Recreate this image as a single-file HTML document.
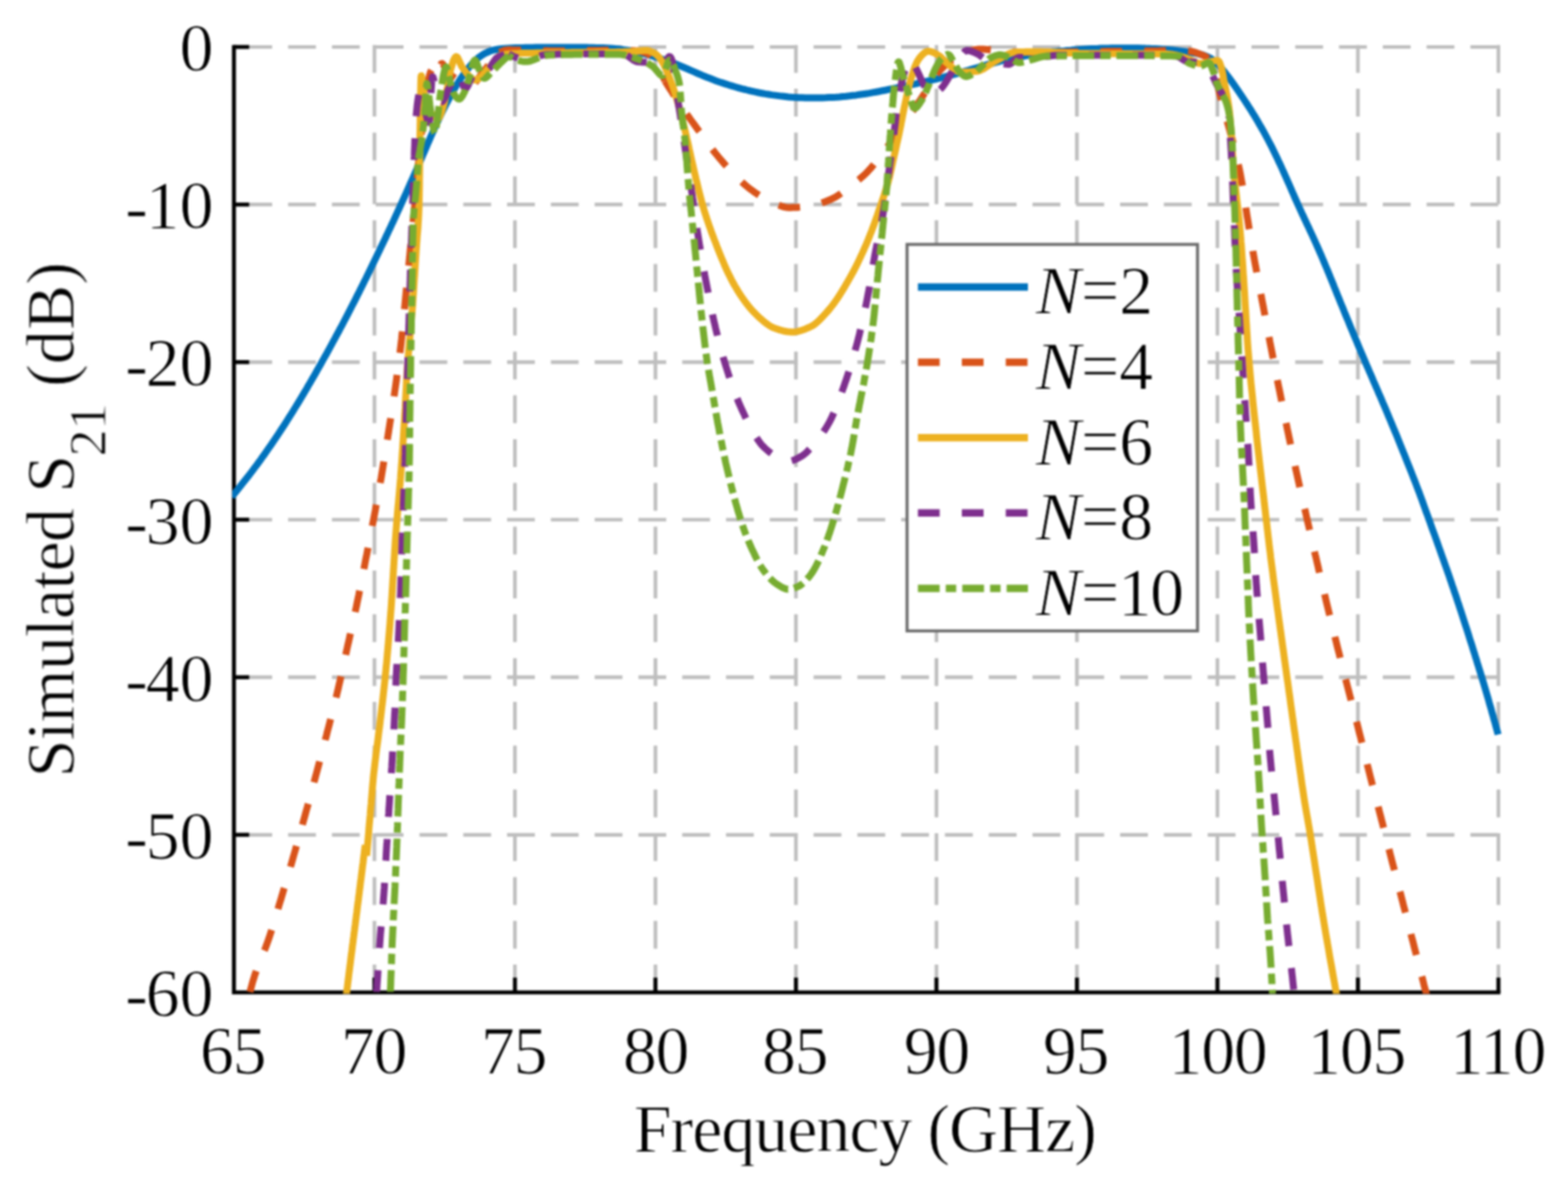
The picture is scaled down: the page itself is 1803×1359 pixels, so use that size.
<!DOCTYPE html>
<html lang="en">
<head>
<meta charset="utf-8">
<title>Simulated S21 versus Frequency</title>
<style>
html,body{margin:0;padding:0;background:#fff;}
body{width:1803px;height:1359px;overflow:hidden;font-family:"Liberation Serif","Times New Roman",Times,serif;}
svg{display:block;}
</style>
</head>
<body>
<svg width="1803" height="1359" viewBox="0 0 1803 1359">
<rect x="0" y="0" width="1803" height="1359" fill="#ffffff"/>
<defs><filter id="soft" x="0" y="0" width="1803" height="1359" filterUnits="userSpaceOnUse" color-interpolation-filters="sRGB"><feGaussianBlur stdDeviation="0.8"/></filter></defs>
<g filter="url(#soft)">
<g stroke="#bebebe" stroke-width="4.2" fill="none" stroke-dasharray="32 18.35">
<line x1="430.56" y1="51.75" x2="430.56" y2="1141.0"/>
<line x1="592.11" y1="51.75" x2="592.11" y2="1141.0"/>
<line x1="753.67" y1="51.75" x2="753.67" y2="1141.0"/>
<line x1="915.22" y1="51.75" x2="915.22" y2="1141.0"/>
<line x1="1076.78" y1="51.75" x2="1076.78" y2="1141.0"/>
<line x1="1238.33" y1="51.75" x2="1238.33" y2="1141.0"/>
<line x1="1399.89" y1="51.75" x2="1399.89" y2="1141.0"/>
<line x1="1561.44" y1="51.75" x2="1561.44" y2="1141.0"/>
<line x1="1723.00" y1="51.75" x2="1723.00" y2="1141.0"/>
<line x1="1722.75" y1="54.00" x2="269.0" y2="54.00"/>
<line x1="1722.75" y1="235.17" x2="269.0" y2="235.17"/>
<line x1="1722.75" y1="416.33" x2="269.0" y2="416.33"/>
<line x1="1722.75" y1="597.50" x2="269.0" y2="597.50"/>
<line x1="1722.75" y1="778.67" x2="269.0" y2="778.67"/>
<line x1="1722.75" y1="959.83" x2="269.0" y2="959.83"/>
</g>
<g stroke="#000" stroke-width="4.6" fill="none">
<path d="M269.0 51.7 V1141.0 H1725.3" stroke-linejoin="miter"/>
<line x1="430.56" y1="1141.0" x2="430.56" y2="1124.0"/>
<line x1="592.11" y1="1141.0" x2="592.11" y2="1124.0"/>
<line x1="753.67" y1="1141.0" x2="753.67" y2="1124.0"/>
<line x1="915.22" y1="1141.0" x2="915.22" y2="1124.0"/>
<line x1="1076.78" y1="1141.0" x2="1076.78" y2="1124.0"/>
<line x1="1238.33" y1="1141.0" x2="1238.33" y2="1124.0"/>
<line x1="1399.89" y1="1141.0" x2="1399.89" y2="1124.0"/>
<line x1="1561.44" y1="1141.0" x2="1561.44" y2="1124.0"/>
<line x1="1723.00" y1="1141.0" x2="1723.00" y2="1124.0"/>
<line x1="269.0" y1="54.00" x2="286.5" y2="54.00"/>
<line x1="269.0" y1="235.17" x2="286.5" y2="235.17"/>
<line x1="269.0" y1="416.33" x2="286.5" y2="416.33"/>
<line x1="269.0" y1="597.50" x2="286.5" y2="597.50"/>
<line x1="269.0" y1="778.67" x2="286.5" y2="778.67"/>
<line x1="269.0" y1="959.83" x2="286.5" y2="959.83"/>
</g>
<clipPath id="pc"><rect x="267.0" y="46.0" width="1462.0" height="1096.6"/></clipPath>
<g clip-path="url(#pc)" fill="none" stroke-linejoin="round">
<path d="M266.5 571.3L268.9 568.3L271.4 565.2L273.8 562.2L276.2 559.2L278.7 556.1L281.1 553.1L283.5 550.0L285.9 547.0L288.3 543.9L290.6 540.8L292.9 537.7L295.3 534.6L297.6 531.4L299.9 528.3L302.1 525.1L304.4 522.0L306.6 518.8L308.8 515.6L311.1 512.4L313.2 509.2L315.4 506.0L317.6 502.7L319.8 499.5L321.9 496.3L324.0 493.0L326.2 489.7L328.3 486.5L330.4 483.2L332.4 479.9L334.5 476.6L336.6 473.3L338.6 470.0L340.7 466.7L342.7 463.4L344.7 460.1L346.7 456.7L348.7 453.4L350.7 450.0L352.7 446.7L354.6 443.3L356.6 440.0L358.5 436.6L360.5 433.2L362.4 429.9L364.3 426.5L366.2 423.1L368.2 419.7L370.1 416.3L372.0 412.9L373.9 409.6L375.8 406.2L377.6 402.8L379.5 399.3L381.4 395.9L383.2 392.5L385.1 389.1L386.9 385.7L388.8 382.3L390.6 378.8L392.5 375.4L394.3 372.0L396.1 368.5L397.9 365.1L399.7 361.6L401.5 358.2L403.3 354.7L405.0 351.3L406.8 347.8L408.6 344.3L410.3 340.9L412.1 337.4L413.8 333.9L415.6 330.4L417.3 327.0L419.0 323.5L420.8 320.0L422.5 316.5L424.2 313.0L425.9 309.5L427.6 306.0L429.3 302.5L431.0 299.0L432.7 295.5L434.4 292.0L436.1 288.5L437.7 285.0L439.4 281.5L441.1 278.0L442.8 274.5L444.4 271.0L446.1 267.5L447.7 263.9L449.4 260.4L451.0 256.9L452.7 253.4L454.3 249.8L455.9 246.3L457.5 242.8L459.2 239.2L460.8 235.7L462.4 232.2L464.0 228.6L465.6 225.1L467.2 221.5L468.8 218.0L470.4 214.4L471.9 210.9L473.5 207.3L475.1 203.8L476.7 200.2L478.3 196.7L479.8 193.1L481.4 189.5L482.9 186.0L484.5 182.4L486.0 178.8L487.5 175.3L489.1 171.7L490.6 168.1L492.1 164.5L493.7 161.0L495.2 157.4L496.8 153.8L498.4 150.3L500.0 146.7L501.6 143.2L503.2 139.7L504.9 136.2L506.6 132.6L508.3 129.1L510.0 125.7L511.7 122.2L513.5 118.7L515.3 115.3L517.1 111.8L519.0 108.4L520.9 105.0L522.8 101.6L524.8 98.3L526.8 95.0L528.9 91.7L531.1 88.4L533.3 85.2L535.6 82.1L538.0 79.0L540.5 76.0L543.1 73.1L545.8 70.3L548.6 67.7L551.7 65.2L554.9 63.0L558.3 61.1L561.9 59.5L565.5 58.1L569.3 57.2L573.1 56.5L577.0 56.0L580.9 55.7L584.8 55.5L588.7 55.3L592.6 55.1L596.5 55.0L600.4 54.9L604.3 54.8L608.2 54.7L612.1 54.7L615.9 54.6L619.8 54.6L623.7 54.6L627.6 54.6L631.5 54.6L635.3 54.6L639.2 54.6L643.1 54.6L647.0 54.6L650.9 54.6L654.8 54.6L658.6 54.6L662.5 54.6L666.4 54.6L670.3 54.6L674.2 54.6L678.1 54.7L682.0 54.8L685.9 54.9L689.8 55.0L693.7 55.1L697.6 55.3L701.4 55.5L705.3 55.8L709.2 56.2L713.1 56.6L716.9 57.1L720.8 57.6L724.6 58.3L728.4 59.0L732.2 59.8L736.0 60.7L739.8 61.7L743.5 62.6L747.3 63.7L751.0 64.7L754.8 65.8L758.5 67.0L762.2 68.2L765.9 69.5L769.5 70.8L773.2 72.1L776.8 73.5L780.4 75.0L784.0 76.5L787.6 78.0L791.1 79.5L794.7 81.1L798.3 82.7L801.8 84.2L805.4 85.7L809.0 87.3L812.6 88.7L816.2 90.1L819.9 91.5L823.5 92.9L827.2 94.2L830.9 95.4L834.6 96.6L838.3 97.8L842.0 98.9L845.7 100.0L849.5 101.1L853.2 102.1L857.0 103.0L860.8 104.0L864.6 104.8L868.4 105.7L872.2 106.5L876.0 107.2L879.8 107.9L883.7 108.5L887.5 109.1L891.4 109.6L895.2 110.1L899.1 110.6L902.9 111.0L906.8 111.4L910.7 111.7L914.6 111.9L918.5 112.2L922.3 112.3L926.2 112.5L930.1 112.6L934.0 112.6L937.9 112.6L941.8 112.5L945.7 112.4L949.6 112.3L953.4 112.1L957.3 111.9L961.2 111.7L965.1 111.4L969.0 111.0L972.8 110.7L976.7 110.3L980.6 109.8L984.4 109.4L988.3 108.8L992.1 108.3L996.0 107.7L999.8 107.1L1003.6 106.4L1007.5 105.7L1011.3 105.0L1015.1 104.2L1018.9 103.5L1022.7 102.7L1026.6 101.9L1030.4 101.2L1034.2 100.4L1038.0 99.6L1041.8 98.7L1045.6 97.9L1049.4 97.1L1053.2 96.3L1057.0 95.4L1060.8 94.6L1064.6 93.7L1068.3 92.8L1072.1 91.9L1075.9 91.0L1079.7 90.1L1083.5 89.1L1087.2 88.2L1091.0 87.2L1094.7 86.2L1098.5 85.1L1102.2 84.1L1106.0 83.0L1109.7 81.9L1113.4 80.8L1117.2 79.7L1120.9 78.6L1124.6 77.5L1128.3 76.4L1132.1 75.3L1135.8 74.2L1139.6 73.2L1143.3 72.1L1147.1 71.1L1150.8 70.2L1154.6 69.2L1158.4 68.3L1162.2 67.5L1166.0 66.7L1169.8 65.9L1173.6 65.2L1177.4 64.5L1181.3 63.9L1185.1 63.3L1189.0 62.7L1192.8 62.1L1196.7 61.5L1200.5 61.0L1204.4 60.5L1208.2 60.0L1212.1 59.6L1216.0 59.1L1219.8 58.7L1223.7 58.4L1227.6 58.0L1231.5 57.7L1235.3 57.3L1239.2 57.1L1243.1 56.8L1247.0 56.5L1250.8 56.3L1254.7 56.1L1258.6 55.9L1262.5 55.8L1266.4 55.6L1270.3 55.5L1274.2 55.4L1278.0 55.3L1281.9 55.3L1285.8 55.2L1289.7 55.2L1293.6 55.2L1297.5 55.2L1301.4 55.2L1305.3 55.3L1309.2 55.3L1313.1 55.4L1317.0 55.6L1320.9 55.7L1324.8 55.9L1328.6 56.1L1332.5 56.3L1336.4 56.6L1340.2 56.9L1344.1 57.2L1347.9 57.6L1351.8 58.0L1355.6 58.5L1359.5 59.0L1363.3 59.5L1367.2 60.1L1371.1 60.7L1375.0 61.4L1378.9 62.1L1382.7 63.1L1386.4 64.4L1389.9 65.9L1393.1 67.8L1396.2 70.1L1399.1 72.7L1401.9 75.4L1404.5 78.4L1407.1 81.5L1409.5 84.7L1411.9 87.8L1414.3 91.0L1416.6 94.2L1418.9 97.4L1421.1 100.6L1423.3 103.8L1425.5 107.0L1427.7 110.2L1429.8 113.4L1431.9 116.6L1434.0 119.8L1436.1 123.1L1438.2 126.3L1440.2 129.6L1442.3 132.9L1444.3 136.3L1446.3 139.6L1448.2 143.0L1450.2 146.4L1452.1 149.7L1454.0 153.2L1455.9 156.6L1457.7 160.0L1459.5 163.5L1461.3 166.9L1463.1 170.4L1464.8 173.9L1466.5 177.4L1468.2 180.9L1469.8 184.4L1471.5 187.9L1473.1 191.4L1474.7 195.0L1476.3 198.5L1477.9 202.1L1479.5 205.6L1481.0 209.2L1482.6 212.7L1484.2 216.3L1485.7 219.9L1487.3 223.4L1488.8 227.0L1490.4 230.5L1492.0 234.1L1493.6 237.6L1495.2 241.2L1496.8 244.7L1498.5 248.2L1500.1 251.8L1501.8 255.3L1503.4 258.8L1505.1 262.3L1506.7 265.8L1508.4 269.4L1510.0 272.9L1511.6 276.4L1513.2 280.0L1514.8 283.5L1516.4 287.1L1517.9 290.6L1519.5 294.2L1521.0 297.8L1522.5 301.4L1524.0 305.0L1525.5 308.5L1527.0 312.1L1528.5 315.7L1529.9 319.3L1531.4 322.9L1532.9 326.5L1534.3 330.2L1535.8 333.8L1537.2 337.4L1538.7 341.0L1540.2 344.6L1541.6 348.2L1543.1 351.8L1544.6 355.4L1546.0 359.0L1547.5 362.6L1549.0 366.2L1550.5 369.8L1551.9 373.4L1553.4 377.0L1554.9 380.5L1556.4 384.1L1557.9 387.7L1559.4 391.3L1560.9 394.9L1562.4 398.5L1563.9 402.1L1565.4 405.6L1567.0 409.2L1568.5 412.8L1570.0 416.4L1571.5 420.0L1573.1 423.5L1574.6 427.1L1576.2 430.7L1577.7 434.2L1579.2 437.8L1580.8 441.4L1582.3 444.9L1583.9 448.5L1585.4 452.1L1587.0 455.7L1588.5 459.2L1590.0 462.8L1591.6 466.4L1593.1 469.9L1594.6 473.5L1596.1 477.1L1597.6 480.7L1599.1 484.3L1600.6 487.9L1602.1 491.5L1603.6 495.1L1605.1 498.6L1606.6 502.3L1608.0 505.9L1609.5 509.5L1610.9 513.1L1612.4 516.7L1613.8 520.3L1615.3 523.9L1616.7 527.5L1618.1 531.1L1619.6 534.7L1621.0 538.3L1622.5 542.0L1623.9 545.6L1625.3 549.2L1626.7 552.8L1628.1 556.4L1629.5 560.1L1630.9 563.7L1632.3 567.3L1633.6 571.0L1635.0 574.6L1636.3 578.3L1637.6 582.0L1638.9 585.6L1640.2 589.3L1641.6 592.9L1642.9 596.6L1644.2 600.2L1645.5 603.9L1646.8 607.6L1648.1 611.2L1649.5 614.9L1650.8 618.5L1652.1 622.2L1653.4 625.9L1654.7 629.5L1656.0 633.2L1657.3 636.8L1658.6 640.5L1659.9 644.2L1661.2 647.8L1662.5 651.5L1663.8 655.2L1665.1 658.8L1666.4 662.5L1667.6 666.2L1668.9 669.9L1670.1 673.6L1671.4 677.2L1672.6 680.9L1673.9 684.6L1675.1 688.3L1676.3 692.0L1677.6 695.7L1678.8 699.4L1680.0 703.1L1681.2 706.8L1682.4 710.5L1683.6 714.2L1684.8 717.9L1686.0 721.6L1687.2 725.3L1688.4 729.0L1689.5 732.7L1690.7 736.4L1691.9 740.1L1693.1 743.8L1694.2 747.5L1695.4 751.2L1696.5 754.9L1697.7 758.6L1698.8 762.4L1700.0 766.1L1701.1 769.8L1702.3 773.5L1703.4 777.2L1704.5 780.9L1705.7 784.7L1706.8 788.4L1707.9 792.1L1709.0 795.8L1710.1 799.6L1711.2 803.3L1712.2 807.1L1713.3 810.8L1714.4 814.5L1715.4 818.3L1716.5 822.0L1717.5 825.8L1718.6 829.5L1719.6 833.3L1720.6 837.0L1721.7 840.8L1722.7 844.5" stroke="#0072bd" stroke-width="8.0"/>
<path d="M286.0 1147.0L286.5 1144.4L287.1 1141.8L287.8 1139.0L288.6 1136.2L289.4 1133.3L290.2 1130.3L291.1 1127.2L292.1 1124.0L293.1 1120.7L294.3 1117.3L295.6 1113.8L297.0 1110.1L298.5 1106.4L300.1 1102.6L301.6 1098.7L303.2 1094.8L304.8 1090.9L306.3 1087.0L307.7 1083.1L309.1 1079.2L310.4 1075.2L311.7 1071.2L313.0 1067.2L314.2 1063.1L315.5 1059.0L316.7 1054.9L318.0 1050.8L319.2 1046.6L320.4 1042.5L321.6 1038.4L322.9 1034.3L324.1 1030.2L325.3 1026.1L326.5 1022.0L327.8 1017.9L329.0 1013.8L330.2 1009.7L331.4 1005.6L332.6 1001.5L333.8 997.4L335.0 993.3L336.2 989.2L337.3 985.1L338.5 981.0L339.7 976.9L340.8 972.8L342.0 968.7L343.1 964.7L344.3 960.6L345.4 956.5L346.6 952.4L347.7 948.4L348.8 944.3L350.0 940.2L351.1 936.1L352.2 932.0L353.4 927.9L354.5 923.8L355.6 919.6L356.7 915.5L357.9 911.4L359.0 907.3L360.1 903.2L361.2 899.0L362.3 894.9L363.4 890.8L364.5 886.7L365.6 882.6L366.7 878.4L367.8 874.3L368.9 870.2L370.0 866.1L371.1 862.0L372.2 857.8L373.3 853.7L374.3 849.6L375.4 845.5L376.4 841.3L377.5 837.2L378.6 833.1L379.6 829.0L380.7 824.8L381.7 820.7L382.8 816.6L383.8 812.5L384.8 808.3L385.9 804.2L386.9 800.1L387.9 795.9L388.9 791.8L389.8 787.7L390.8 783.5L391.7 779.4L392.7 775.2L393.6 771.0L394.5 766.9L395.4 762.7L396.3 758.5L397.2 754.3L398.1 750.2L399.0 746.0L399.9 741.9L400.9 737.7L401.8 733.6L402.7 729.4L403.6 725.3L404.5 721.2L405.5 717.0L406.4 712.9L407.3 708.8L408.2 704.6L409.1 700.5L410.0 696.3L410.8 692.2L411.7 688.0L412.6 683.8L413.4 679.6L414.3 675.4L415.1 671.2L415.9 667.0L416.7 662.8L417.6 658.6L418.4 654.4L419.2 650.2L420.0 646.0L420.8 641.8L421.7 637.6L422.5 633.4L423.3 629.2L424.1 625.1L425.0 620.9L425.8 616.7L426.6 612.6L427.4 608.4L428.2 604.2L429.0 600.1L429.8 595.9L430.6 591.7L431.4 587.5L432.1 583.3L432.9 579.2L433.7 575.0L434.4 570.8L435.2 566.6L435.9 562.5L436.7 558.3L437.4 554.1L438.2 549.9L438.9 545.7L439.6 541.4L440.3 537.2L441.0 532.9L441.7 528.6L442.4 524.3L443.1 520.1L443.8 515.8L444.5 511.5L445.1 507.2L445.8 502.9L446.5 498.7L447.1 494.4L447.8 490.2L448.4 486.1L449.1 481.9L449.7 477.8L450.4 473.7L451.0 469.6L451.6 465.5L452.3 461.4L452.9 457.3L453.5 453.1L454.1 449.0L454.7 444.8L455.3 440.6L455.9 436.4L456.4 432.1L457.0 427.9L457.6 423.6L458.2 419.3L458.7 415.0L459.3 410.7L459.8 406.4L460.3 402.2L460.8 397.9L461.3 393.6L461.8 389.4L462.2 385.1L462.7 380.9L463.1 376.6L463.5 372.4L463.9 368.2L464.3 363.9L464.7 359.7L465.1 355.5L465.5 351.3L465.9 347.1L466.3 342.9L466.7 338.7L467.1 334.5L467.5 330.4L467.9 326.3L468.3 322.1L468.7 318.0L469.2 313.9L469.6 309.7L470.0 305.6L470.4 301.4L470.8 297.2L471.2 293.1L471.6 288.9L472.0 284.7L472.5 280.5L472.9 276.3L473.3 272.1L473.7 267.9L474.2 263.6L474.6 259.4L475.0 255.1L475.4 250.8L475.9 246.5L476.3 242.2L476.7 237.8L477.1 233.4L477.5 228.9L477.9 224.4L478.3 219.9L478.7 215.5L479.1 211.0L479.5 206.5L479.9 202.0L480.3 197.6L480.7 193.2L481.1 188.9L481.5 184.5L481.9 180.2L482.3 175.9L482.8 171.5L483.2 167.3L483.6 163.0L484.0 158.7L484.4 154.5L484.9 150.4L485.3 146.3L485.8 142.2L486.2 138.2L486.6 134.2L487.1 130.1L487.5 126.1L487.9 122.1L488.4 118.2L488.8 114.3L489.3 110.6L489.8 107.0L490.3 103.6L490.9 100.4L491.5 97.2L492.2 93.7L493.0 90.2L493.8 86.9L494.6 84.0L495.5 81.7L496.3 80.3L497.2 80.1L498.2 81.2L499.1 83.3L500.2 85.6L501.2 87.4L502.1 88.0L503.0 86.9L503.9 84.4L504.7 81.2L505.6 77.9L506.5 75.1L507.4 73.3L508.5 73.1L509.6 74.1L510.8 75.9L512.1 78.2L513.5 80.6L514.9 82.7L516.4 84.4L518.0 85.9L519.7 87.3L521.5 88.7L523.4 90.0L525.3 91.1L527.3 92.1L529.4 93.1L531.7 94.2L534.0 95.1L536.4 96.0L538.8 96.6L541.0 97.0L543.0 96.9L545.0 96.0L546.9 94.3L548.7 92.1L550.6 89.6L552.3 87.0L554.1 84.4L555.9 82.1L557.7 80.0L559.5 77.8L561.3 75.6L563.1 73.3L564.8 71.1L566.6 68.7L568.3 66.4L570.0 64.0" stroke="#d95319" stroke-width="8.0" stroke-dasharray="25 25.4" stroke-dashoffset="43.66"/>
<path d="M570.0 64.0L571.3 62.9L572.8 61.7L574.3 60.7L575.8 59.7L577.5 58.9L579.2 58.2L580.9 57.7L582.7 57.4L584.6 57.3L586.6 57.3L588.7 57.4L590.8 57.4L593.1 57.5L595.4 57.6L597.8 57.6L600.2 57.7L602.7 57.8L605.2 57.9L607.7 58.0L610.3 58.0L612.9 58.1L615.5 58.1L618.2 58.1L621.0 58.2L623.8 58.2L626.7 58.3L629.6 58.3L632.5 58.4L635.5 58.4L638.5 58.4L641.5 58.5L644.5 58.5L647.5 58.5L650.6 58.5L653.6 58.5L656.8 58.5L660.1 58.4L663.4 58.4L666.7 58.3L670.1 58.3L673.4 58.2L676.8 58.1L680.2 58.1L683.5 58.0L686.7 57.9L689.9 57.9L693.0 57.8L696.0 57.8L698.9 57.8L701.7 57.8L704.5 57.8L707.2 57.8L709.9 57.8L712.5 57.9L715.1 57.9L717.6 58.0L720.1 58.0L722.5 58.1L724.8 58.1L727.0 58.2L729.1 58.3L731.1 58.4L733.1 58.5L735.0 58.8L736.9 59.2L738.6 59.6L740.3 60.1L741.9 60.7L743.5 61.3L744.9 61.9L746.2 62.7L747.5 63.8L748.6 65.1L749.8 66.6L750.8 68.2L751.9 69.9L752.9 71.6L754.0 73.3L755.0 75.0L756.0 76.6L757.1 78.3L758.1 80.0L759.1 81.8L760.0 83.6L761.0 85.4L762.0 87.3L762.9 89.2L763.8 91.2L764.7 93.2" stroke="#d95319" stroke-width="8.0" stroke-dasharray="25 25.4" stroke-dashoffset="44.44"/>
<path d="M764.7 93.2L766.1 95.5L767.6 97.9L769.1 100.2L770.6 102.6L772.1 104.9L773.6 107.3L775.1 109.7L776.7 112.1L778.3 114.5L779.9 116.9L781.5 119.3L783.2 121.7L784.8 124.1L786.5 126.6L788.2 129.0L789.9 131.5L791.7 134.0L793.4 136.5L795.2 139.0L797.0 141.4L798.8 143.9L800.6 146.4L802.4 148.9L804.3 151.4L806.1 154.0L807.9 156.5L809.7 159.0L811.6 161.6L813.4 164.1L815.3 166.6L817.2 169.2L819.1 171.7L821.1 174.3L823.1 176.8L825.2 179.3L827.3 181.9L829.5 184.4L831.8 187.1L834.2 189.8L836.7 192.5L839.3 195.3L841.9 198.1L844.5 200.8L847.1 203.5L849.8 206.1L852.4 208.6L855.0 211.0L857.5 213.2L860.0 215.3L862.4 217.2L864.7 218.8L866.9 220.4L869.1 222.0L871.2 223.4L873.4 224.8L875.5 226.0L877.6 227.3L879.7 228.4L881.8 229.5L884.0 230.6L886.3 231.6L888.5 232.6L890.8 233.7L893.1 234.7L895.4 235.8L897.7 236.7L900.0 237.5L902.4 238.1L904.7 238.5L907.0 238.7L909.4 238.7L911.7 238.6L914.1 238.5L916.4 238.4L918.8 238.2L921.1 238.0L923.5 237.7L925.9 237.5L928.3 237.2L930.7 236.9L933.2 236.5L935.8 236.0L938.3 235.4L940.9 234.6L943.5 233.8L946.0 232.9L948.6 232.0L951.1 231.0L953.5 230.0L955.9 229.0L958.1 227.9L960.4 226.7L962.6 225.4L964.7 224.0L966.9 222.5L969.0 221.0L971.0 219.4L973.1 217.8L975.1 216.2L977.1 214.7L979.1 213.2L981.1 211.7L983.0 210.2L984.9 208.7L986.8 207.1L988.7 205.6L990.5 204.0L992.4 202.4L994.1 200.8L995.9 199.1L997.6 197.4L999.2 195.6L1000.9 193.8L1002.5 191.9L1004.1 190.0L1005.6 188.1L1007.2 186.2L1008.7 184.2L1010.3 182.2L1011.8 180.2L1013.4 178.2L1015.0 176.1L1016.6 174.0L1018.1 171.8L1019.7 169.7L1021.3 167.5L1022.8 165.3L1024.3 163.2L1025.8 161.1L1027.2 159.1L1028.7 157.1L1030.0 155.1L1031.4 153.2L1032.7 151.3L1034.1 149.4L1035.3 147.6L1036.6 145.8L1037.9 144.0L1039.2 142.2L1040.4 140.4L1041.6 138.7L1042.8 137.0L1044.0 135.4L1045.2 133.8L1046.4 132.1L1047.6 130.5L1048.8 128.7L1050.1 126.9L1051.4 125.0L1052.7 123.1L1054.1 121.0L1055.4 119.0L1056.8 116.8L1058.3 114.7L1059.7 112.5L1061.1 110.4L1062.5 108.2L1064.0 106.0L1065.4 103.8L1066.8 101.5L1068.3 99.2L1069.7 96.9L1071.1 94.5L1072.6 92.2L1074.1 89.9L1075.6 87.7L1077.1 85.5L1078.7 83.5L1080.4 81.5L1082.2 79.7L1083.9 77.8L1085.8 76.0L1087.7 74.3L1089.6 72.6L1091.6 71.0L1093.6 69.4L1095.7 67.9L1097.8 66.4L1100.0 65.0" stroke="#d95319" stroke-width="8.0" stroke-dasharray="25 25.4" stroke-dashoffset="5.11"/>
<path d="M1100.0 65.0L1102.4 63.8L1104.9 62.6L1107.3 61.4L1109.8 60.4L1112.3 59.5L1114.9 58.6L1117.4 57.9L1120.0 57.3L1122.5 56.9L1125.2 56.6L1127.8 56.5L1130.4 56.5L1133.1 56.7L1135.7 56.9L1138.4 57.2L1141.2 57.5L1143.9 57.9L1146.7 58.3L1149.4 58.6L1152.2 58.9L1155.1 59.2L1158.0 59.4L1160.9 59.5L1163.8 59.6L1166.7 59.7L1169.7 59.8L1172.6 59.9L1175.6 59.9L1178.7 60.0L1181.7 60.0L1184.8 60.1L1188.0 60.1L1191.2 60.2L1194.4 60.2L1197.8 60.2L1201.1 60.2L1204.6 60.2L1208.2 60.2L1211.8 60.1L1215.5 60.1L1219.2 60.0L1223.0 60.0L1226.9 59.9L1230.8 59.8L1234.7 59.7L1238.6 59.7L1242.5 59.6L1246.4 59.5L1250.3 59.5L1254.1 59.4L1257.9 59.3L1261.7 59.3L1265.6 59.2L1269.5 59.2L1273.4 59.1L1277.3 59.1L1281.3 59.0L1285.2 59.0L1289.2 59.0L1293.1 58.9L1296.9 58.9L1300.8 58.8L1304.5 58.8L1308.2 58.8L1311.8 58.7L1315.3 58.7L1318.6 58.6L1321.9 58.6L1325.2 58.5L1328.4 58.5L1331.6 58.4L1334.7 58.3L1337.8 58.3L1340.8 58.2L1343.7 58.1L1346.5 58.1L1349.1 58.0L1351.6 58.0L1353.8 58.0L1355.9 58.0L1357.8 58.0L1359.6 58.1L1361.2 58.2L1362.8 58.3L1364.4 58.4L1366.0 58.5L1367.6 58.7L1369.2 58.9L1370.8 59.2L1372.4 59.6L1374.0 60.1L1375.5 60.6L1377.1 61.2L1378.7 61.8L1380.4 62.4L1382.1 63.1L1383.9 63.9L1385.6 64.8L1387.2 65.7L1388.6 66.7L1389.9 67.9L1390.9 69.1L1391.9 70.6L1392.8 72.4L1393.7 74.3L1394.4 76.3L1395.2 78.3L1395.9 80.5L1396.6 82.6L1397.2 84.6L1397.8 86.7L1398.3 88.9L1398.8 91.2L1399.3 93.4L1399.8 95.8L1400.3 98.1L1400.7 100.4L1401.2 102.7L1401.8 105.0L1402.3 107.3L1402.9 109.5L1403.5 111.8L1404.1 114.0L1404.7 116.3L1405.4 118.5L1406.0 120.8L1406.6 123.0L1407.2 125.3L1407.9 127.5L1408.5 129.8L1409.1 132.0L1409.7 134.3L1410.3 136.5L1410.9 138.8L1411.5 141.0L1412.2 143.3L1412.8 145.5L1413.4 147.8L1414.0 150.0" stroke="#d95319" stroke-width="8.0" stroke-dasharray="25 25.4" stroke-dashoffset="34.51"/>
<path d="M1414.0 150.0L1414.8 152.8L1415.7 155.6L1416.5 158.6L1417.3 161.6L1418.1 164.6L1418.9 167.7L1419.7 170.9L1420.5 174.1L1421.3 177.4L1422.1 180.8L1422.9 184.2L1423.7 187.7L1424.4 191.2L1425.2 194.9L1426.0 198.7L1426.7 202.6L1427.4 206.6L1428.2 210.9L1428.9 215.3L1429.6 219.8L1430.3 224.4L1431.0 229.1L1431.7 233.8L1432.5 238.5L1433.2 243.2L1433.9 247.8L1434.7 252.4L1435.4 256.9L1436.1 261.5L1436.9 266.0L1437.7 270.6L1438.4 275.2L1439.2 279.8L1440.0 284.3L1440.7 288.9L1441.5 293.5L1442.3 298.0L1443.1 302.6L1444.0 307.1L1444.8 311.6L1445.6 316.2L1446.5 320.7L1447.4 325.2L1448.2 329.7L1449.1 334.3L1450.0 338.8L1450.8 343.3L1451.7 347.9L1452.6 352.4L1453.4 356.9L1454.3 361.5L1455.1 366.1L1456.0 370.6L1456.9 375.2L1457.7 379.8L1458.6 384.3L1459.5 388.9L1460.3 393.5L1461.2 398.0L1462.1 402.6L1463.0 407.1L1463.9 411.7L1464.8 416.2L1465.6 420.8L1466.5 425.3L1467.4 429.9L1468.3 434.4L1469.2 439.0L1470.1 443.5L1471.1 448.1L1472.0 452.6L1472.9 457.2L1473.8 461.7L1474.7 466.3L1475.7 470.8L1476.6 475.4L1477.5 480.0L1478.4 484.5L1479.4 489.0L1480.3 493.6L1481.3 498.1L1482.2 502.6L1483.2 507.2L1484.1 511.7L1485.0 516.2L1486.0 520.7L1487.0 525.1L1487.9 529.6L1488.9 534.1L1489.8 538.6L1490.8 543.1L1491.8 547.6L1492.8 552.1L1493.8 556.6L1494.8 561.1L1495.8 565.6L1496.8 570.1L1497.9 574.5L1498.9 579.0L1499.9 583.5L1501.0 588.0L1502.0 592.5L1503.0 597.0L1504.0 601.4L1505.1 605.9L1506.1 610.3L1507.1 614.8L1508.1 619.2L1509.1 623.7L1510.2 628.1L1511.2 632.6L1512.2 637.1L1513.3 641.5L1514.3 646.0L1515.4 650.5L1516.4 655.1L1517.5 659.6L1518.6 664.1L1519.6 668.7L1520.7 673.2L1521.8 677.8L1522.9 682.3L1524.0 686.9L1525.0 691.4L1526.1 695.9L1527.2 700.4L1528.3 704.9L1529.4 709.4L1530.5 713.9L1531.6 718.4L1532.7 722.8L1533.8 727.3L1534.9 731.8L1536.0 736.2L1537.1 740.7L1538.2 745.2L1539.4 749.7L1540.5 754.1L1541.6 758.6L1542.8 763.1L1543.9 767.6L1545.0 772.0L1546.2 776.5L1547.3 781.0L1548.5 785.5L1549.6 789.9L1550.8 794.4L1551.9 798.9L1553.1 803.4L1554.2 807.8L1555.4 812.3L1556.5 816.8L1557.7 821.3L1558.9 825.8L1560.0 830.2L1561.2 834.7L1562.3 839.2L1563.4 843.7L1564.6 848.2L1565.7 852.7L1566.8 857.2L1567.9 861.6L1569.0 866.1L1570.1 870.6L1571.2 875.1L1572.3 879.6L1573.5 884.1L1574.6 888.6L1575.7 893.1L1576.9 897.6L1578.0 902.1L1579.2 906.5L1580.4 911.0L1581.5 915.5L1582.7 920.0L1583.9 924.4L1585.1 928.9L1586.2 933.4L1587.4 937.9L1588.5 942.3L1589.7 946.8L1590.8 951.3L1591.9 955.8L1593.1 960.2L1594.2 964.7L1595.3 969.2L1596.5 973.7L1597.6 978.1L1598.7 982.6L1599.9 987.1L1601.0 991.6L1602.2 996.0L1603.4 1000.5L1604.5 1005.0L1605.7 1009.5L1606.9 1013.9L1608.0 1018.4L1609.2 1022.9L1610.4 1027.3L1611.5 1031.8L1612.7 1036.3L1613.8 1040.8L1615.0 1045.2L1616.2 1049.7L1617.3 1054.2L1618.5 1058.7L1619.7 1063.2L1620.8 1067.7L1622.0 1072.2L1623.1 1076.7L1624.3 1081.1L1625.4 1085.5L1626.5 1090.0L1627.7 1094.6L1628.9 1099.2L1630.1 1103.9L1631.3 1108.6L1632.5 1113.2L1633.6 1117.6L1634.7 1121.8L1635.8 1125.8L1636.7 1129.4L1637.5 1132.7L1638.3 1135.7L1639.1 1138.6L1639.7 1141.2L1640.4 1143.7L1641.0 1146.0L1641.5 1148.0" stroke="#d95319" stroke-width="8.0" stroke-dasharray="25 25.4" stroke-dashoffset="10.01"/>
<path d="M397.4 1150.0L397.5 1149.0L397.7 1147.7L397.9 1146.3L398.1 1144.8L398.3 1143.1L398.6 1141.2L398.8 1139.2L399.1 1136.8L399.5 1134.2L399.8 1131.3L400.2 1128.2L400.6 1125.0L401.0 1121.6L401.4 1118.1L401.9 1114.6L402.3 1111.1L402.8 1107.5L403.2 1104.1L403.6 1100.7L404.0 1097.4L404.5 1094.0L404.9 1090.7L405.3 1087.2L405.8 1083.8L406.2 1080.3L406.7 1076.8L407.1 1073.3L407.6 1069.8L408.0 1066.3L408.5 1062.8L408.9 1059.3L409.4 1055.7L409.8 1052.3L410.3 1048.8L410.7 1045.3L411.1 1041.7L411.6 1038.1L412.1 1034.5L412.5 1030.9L413.0 1027.2L413.4 1023.6L413.9 1020.1L414.3 1016.6L414.7 1013.1L415.2 1009.8L415.6 1006.5L416.0 1003.3L416.4 1000.3L416.7 997.3L417.1 994.5L417.5 991.7L417.8 988.9L418.1 986.2L418.5 983.6L418.8 981.0L419.1 978.6L419.4 976.1L419.7 973.8L420.0 971.5" stroke="#edb120" stroke-width="8.0"/>
<path d="M421.6 984.0L421.9 980.5L422.2 977.0L422.5 973.5L422.8 970.0L423.1 966.6L423.4 963.1L423.7 959.7L424.0 956.4L424.2 953.0L424.5 949.7L424.8 946.4L425.1 943.1L425.4 939.8L425.7 936.6L425.9 933.4L426.2 930.2L426.5 927.0L426.8 923.8L427.0 920.7L427.3 917.5L427.6 914.5L427.8 911.6L428.0 908.7L428.3 905.7L428.5 902.7L428.8 899.6L429.1 896.2L429.4 892.7L429.8 888.9L430.3 884.8L430.8 880.5L431.3 875.9L431.9 871.2L432.5 866.3L433.1 861.3L433.8 856.2L434.5 851.1L435.1 846.0L435.7 841.0L436.4 836.0L437.0 831.1L437.5 826.4L438.1 821.8L438.6 817.2L439.1 812.6L439.7 808.1L440.2 803.6L440.7 799.0L441.2 794.5L441.7 790.0L442.2 785.5L442.7 781.0L443.1 776.4L443.6 771.8L444.0 767.2L444.5 762.6L444.9 758.0L445.3 753.4L445.7 748.8L446.1 744.1L446.5 739.5L446.9 734.8L447.3 730.2L447.7 725.4L448.1 720.6L448.5 715.8L448.8 710.9L449.2 705.9L449.6 700.8L450.0 695.6L450.3 690.2L450.7 684.8L451.0 679.2L451.4 673.5L451.7 667.8L452.1 662.1L452.4 656.3L452.8 650.5L453.1 644.8L453.5 639.1L453.8 633.5L454.2 627.9L454.5 622.5L454.9 617.1L455.3 611.9L455.7 606.9L456.1 601.9L456.5 597.0L456.9 592.1L457.3 587.3L457.7 582.6L458.2 577.9L458.6 573.2L459.0 568.5L459.4 563.8L459.8 559.1L460.2 554.3L460.6 549.6L460.9 544.8L461.3 540.0L461.6 535.1L462.0 530.3L462.3 525.4L462.6 520.6L463.0 515.7L463.3 510.8L463.6 506.0L463.9 501.2L464.2 496.4L464.5 491.6L464.8 486.9L465.1 482.2L465.3 477.6L465.6 473.0L465.9 468.5L466.1 464.0L466.3 459.5L466.6 455.1L466.8 450.7L467.1 446.2L467.3 441.8L467.5 437.3L467.8 432.9L468.1 428.3L468.4 423.7L468.7 419.1L469.0 414.4L469.4 409.7L469.8 404.9L470.2 400.1L470.6 395.3L471.1 390.5L471.5 385.6L472.0 380.8L472.4 375.9L472.8 371.1L473.2 366.2L473.6 361.4L474.0 356.6L474.4 351.8L474.7 346.9L475.0 342.0L475.4 337.1L475.7 332.2L476.0 327.3L476.3 322.4L476.7 317.5L477.0 312.6L477.3 307.8L477.6 303.1L477.9 298.4L478.2 293.8L478.5 289.2L478.8 284.8L479.1 280.5L479.4 276.4L479.7 272.3L480.0 268.3L480.4 264.3L480.7 260.3L480.9 256.2L481.2 252.1L481.4 247.8L481.6 243.4L481.8 238.8L481.9 234.0L482.0 229.0L482.1 223.7L482.2 218.3L482.3 212.7L482.3 207.1L482.4 201.3L482.5 195.5L482.5 189.6L482.6 183.8L482.6 178.0L482.7 172.3L482.8 166.6L482.8 161.1L482.9 155.8L483.0 150.6L483.1 145.3L483.2 139.6L483.2 133.5L483.3 127.3L483.4 121.1L483.5 115.0L483.6 109.1L483.7 103.6L483.8 98.7L483.9 94.4L484.0 91.0L484.1 88.6L484.3 87.2L484.5 87.1L484.8 88.4L485.1 90.8L485.6 94.0L486.1 97.8L486.6 101.9L487.3 106.0L487.9 109.9L488.6 113.3L489.3 116.0L490.1 118.5L491.0 120.9L492.0 123.2L493.1 125.3L494.3 127.3L495.4 129.2L496.6 130.8L497.9 132.6L499.3 134.3L500.7 135.8L502.0 136.7L503.2 137.0L504.3 136.3L505.3 134.7L506.3 132.6L507.3 130.1L508.2 127.5L509.0 125.1L509.7 122.7L510.4 120.2L511.1 117.5L511.7 114.7L512.3 111.8L512.8 108.9L513.4 106.1L513.9 103.3L514.5 100.5L515.0 97.7L515.4 94.9L515.9 92.0L516.3 89.2L516.8 86.5L517.3 83.8L517.9 81.3L518.6 78.6L519.5 75.7L520.4 72.6L521.3 69.8L522.4 67.5L523.4 65.8L524.4 65.0L525.5 65.4L526.5 66.8L527.5 68.9L528.6 71.4L529.8 74.0L531.0 76.5L532.4 78.6L534.0 80.7L535.8 83.2L537.7 85.6L539.7 87.9L541.7 89.8L543.8 91.2L545.8 91.9L547.8 91.8L549.9 90.8L552.0 89.2L554.1 87.1L556.2 84.8L558.3 82.3L560.4 79.8L562.4 77.7L564.2 75.7L566.0 73.5L567.7 71.3L569.4 69.0L571.1 67.0L572.9 65.3L574.7 64.0L576.6 63.3L578.6 62.9L580.6 62.5L582.6 62.2L584.8 61.9L587.2 61.7L589.9 61.5L592.8 61.4L596.2 61.3L599.9 61.1L603.9 61.0L608.1 61.0L612.4 60.9L617.0 60.8L621.6 60.7L626.2 60.7L630.8 60.6L635.4 60.6L639.8 60.5L644.3 60.5L648.9 60.4L653.6 60.4L658.4 60.3L663.2 60.3L668.1 60.3L672.9 60.2L677.7 60.2L682.3 60.2L686.9 60.1L691.3 60.1L695.4 60.1L699.4 60.0L703.1 59.9L706.7 59.9L710.3 59.8L713.7 59.7L717.0 59.6L720.2 59.4L723.2 59.3L726.1 59.2L728.8 59.1L731.3 58.9L733.7 58.7L735.9 58.5L738.0 58.3L740.0 58.1L741.9 58.0L743.8 58.0L745.6 58.3L747.4 58.9L749.1 59.6L750.7 60.4L752.3 61.2L753.8 62.1L755.2 63.3L756.6 64.6L757.9 66.1L759.3 67.7L760.6 69.6L762.0 71.9L763.4 74.5L764.8 77.4L766.2 80.4L767.5 83.6L768.8 86.7L770.0 89.8L771.1 92.6L772.1 95.3L773.0 97.8L773.9 100.3L774.7 102.7L775.5 105.2L776.3 107.7L777.1 110.4L778.0 113.2L778.9 116.3L779.8 119.5L780.7 122.8L781.7 126.3L782.6 129.8L783.6 133.5L784.5 137.1L785.4 140.9L786.4 144.6L787.3 148.3L788.2 152.0L789.1 155.8L789.9 159.6L790.8 163.4L791.7 167.3L792.5 171.3L793.4 175.2L794.2 179.1L795.1 183.1L796.0 187.0L796.9 190.9L797.8 194.8L798.7 198.7L799.6 202.6L800.5 206.5L801.5 210.3L802.4 214.2L803.3 218.1L804.3 221.9L805.3 225.8L806.3 229.7L807.3 233.5L808.4 237.4L809.5 241.2L810.7 245.0L811.9 248.9L813.2 252.7L814.5 256.5L815.8 260.4L817.2 264.2L818.5 268.0L820.0 271.8L821.4 275.6L822.9 279.4L824.3 283.2L825.8 287.0L827.4 290.9L828.9 294.7L830.5 298.6L832.2 302.5L833.8 306.4L835.5 310.2L837.3 313.9L839.1 317.6L840.9 321.2L842.8 324.8L844.7 328.2L846.7 331.5L848.7 334.9L850.9 338.3L853.1 341.6L855.3 344.8L857.6 348.0L860.0 351.0L862.3 353.9L864.7 356.6L867.1 359.2L869.4 361.5L871.8 363.8L874.2 366.1L876.7 368.3L879.2 370.4L881.7 372.3L884.2 374.1L886.8 375.6L889.3 376.8L891.9 377.7L894.4 378.6L897.0 379.4L899.6 380.1L902.2 380.8L904.9 381.3L907.5 381.6L910.1 381.8L912.7 381.7L915.3 381.4L917.9 380.9L920.5 380.2L923.2 379.3L925.7 378.4L928.3 377.3L930.8 376.3L933.3 375.0L935.8 373.5L938.2 371.6L940.7 369.5L943.1 367.1L945.5 364.7L947.8 362.1L950.2 359.5L952.4 357.0L954.6 354.4L956.8 351.6L959.0 348.8L961.1 345.8L963.2 342.7L965.3 339.5L967.4 336.2L969.4 332.9L971.4 329.6L973.3 326.3L975.2 323.0L977.1 319.6L979.0 316.2L980.9 312.8L982.7 309.3L984.5 305.8L986.3 302.2L988.0 298.6L989.7 295.0L991.4 291.4L993.0 287.8L994.6 284.2L996.2 280.6L997.7 277.0L999.2 273.3L1000.6 269.6L1002.1 265.9L1003.5 262.2L1004.9 258.5L1006.2 254.8L1007.5 251.1L1008.8 247.5L1010.0 243.9L1011.2 240.4L1012.5 236.9L1013.6 233.4L1014.8 229.9L1016.0 226.4L1017.1 223.0L1018.2 219.6L1019.2 216.2L1020.2 212.9L1021.1 209.6L1022.0 206.4L1022.8 203.3L1023.5 200.2L1024.2 197.2L1024.9 194.2L1025.5 191.2L1026.2 188.3L1026.8 185.3L1027.5 182.3L1028.2 179.2L1028.9 176.1L1029.6 173.0L1030.3 169.8L1031.0 166.7L1031.7 163.5L1032.4 160.4L1033.1 157.2L1033.8 154.1L1034.4 150.9L1035.0 147.9L1035.7 144.8L1036.2 141.7L1036.8 138.7L1037.4 135.7L1038.0 132.6L1038.6 129.5L1039.2 126.4L1039.9 123.2L1040.6 119.9L1041.3 116.6L1042.0 113.1L1042.8 109.6L1043.6 106.2L1044.3 102.7L1045.2 99.3L1046.0 96.0L1046.9 92.8L1047.8 89.7L1048.7 86.7L1049.7 83.7L1050.6 80.7L1051.6 77.8L1052.7 75.0L1053.8 72.5L1055.0 70.1L1056.3 68.1L1057.7 66.2L1059.3 64.3L1061.0 62.5L1062.8 60.9L1064.7 59.7L1066.5 59.0L1068.4 58.9L1070.3 59.3L1072.2 59.9L1074.1 60.8L1076.0 61.8L1077.9 62.9L1079.7 63.9L1081.4 65.2L1083.0 66.8L1084.7 68.4L1086.3 70.1L1088.0 71.8L1089.8 73.3L1091.7 74.9L1093.7 76.6L1095.8 78.4L1097.9 80.1L1100.1 81.5L1102.3 82.5L1104.6 83.0L1106.9 83.0L1109.3 82.9L1111.8 82.8L1114.3 82.7L1116.9 82.5L1119.4 82.3L1122.0 82.1L1124.6 81.7L1127.2 80.9L1129.8 79.7L1132.4 78.2L1135.0 76.5L1137.6 74.7L1140.3 72.9L1142.9 71.3L1145.5 69.9L1148.2 68.5L1150.8 67.0L1153.4 65.4L1156.1 63.9L1158.7 62.5L1161.4 61.4L1164.0 60.5L1166.7 60.1L1169.4 59.9L1172.1 59.8L1174.7 59.7L1177.3 59.7L1180.0 59.6L1182.8 59.5L1185.7 59.5L1188.9 59.5L1192.4 59.5L1196.1 59.6L1200.1 59.7L1204.3 59.8L1208.6 60.0L1213.2 60.2L1217.9 60.4L1222.7 60.7L1227.6 60.9L1232.6 61.1L1237.6 61.2L1242.7 61.4L1247.7 61.5L1252.8 61.5L1258.2 61.6L1264.0 61.6L1270.1 61.6L1276.4 61.7L1282.8 61.7L1289.3 61.7L1295.7 61.7L1302.1 61.7L1308.3 61.8L1314.3 61.8L1320.0 61.8L1325.3 61.8L1330.2 61.9L1334.5 61.9L1338.3 62.0L1341.4 62.0L1344.1 62.2L1346.4 62.4L1348.6 62.8L1350.7 63.1L1352.7 63.5L1354.7 63.9L1356.8 64.4L1358.8 65.0L1360.8 65.7L1362.7 66.4L1364.7 67.1L1366.7 67.9L1368.7 68.7L1370.8 69.7L1372.8 70.7L1374.9 71.7L1377.0 72.5L1379.0 72.9L1381.0 73.0L1383.0 72.7L1385.0 72.4L1386.9 71.9L1388.8 71.5L1390.7 71.1L1392.6 70.7L1394.6 70.3L1396.5 69.9L1398.2 69.7L1399.7 69.5L1400.8 69.8L1401.9 71.0L1402.8 73.0L1403.6 75.3L1404.4 77.7L1405.0 79.9L1405.5 81.9L1405.9 84.0L1406.3 86.1L1406.6 88.3L1407.0 90.5L1407.4 92.6L1407.8 94.8L1408.3 97.0L1408.7 99.2L1409.2 101.4L1409.7 103.7L1410.1 106.0L1410.6 108.3L1411.0 110.6L1411.4 112.9L1411.8 115.2L1412.2 117.6L1412.6 120.1L1413.0 122.9L1413.4 125.9L1413.8 129.3L1414.2 133.2L1414.6 137.5L1414.9 142.1L1415.3 147.1L1415.6 152.4L1416.0 157.8L1416.4 163.3L1416.7 169.0L1417.1 174.6L1417.5 180.2L1417.9 185.8L1418.3 191.1L1418.7 196.2L1419.1 201.1L1419.6 205.8L1420.0 210.5L1420.5 215.1L1421.1 219.7L1421.6 224.2L1422.1 228.7L1422.6 233.2L1423.2 237.7L1423.7 242.1L1424.2 246.6L1424.7 251.1L1425.1 255.6L1425.5 260.1L1425.9 264.7L1426.3 269.2L1426.7 273.6L1427.0 278.1L1427.4 282.5L1427.7 287.0L1428.0 291.4L1428.3 295.9L1428.7 300.5L1429.0 305.1L1429.3 309.9L1429.6 314.7L1430.0 319.6L1430.3 324.6L1430.6 329.7L1431.0 335.0L1431.3 340.3L1431.6 345.7L1431.9 351.2L1432.3 356.7L1432.6 362.3L1432.9 368.0L1433.3 373.6L1433.6 379.2L1434.0 384.9L1434.3 390.5L1434.7 396.2L1435.1 401.7L1435.6 407.3L1436.0 412.8L1436.5 418.4L1437.0 423.9L1437.5 429.5L1438.0 435.1L1438.5 440.7L1439.1 446.3L1439.7 451.9L1440.3 457.5L1440.8 463.1L1441.4 468.6L1442.0 474.2L1442.6 479.7L1443.2 485.1L1443.8 490.5L1444.4 495.9L1444.9 501.3L1445.5 506.6L1446.1 511.9L1446.7 517.2L1447.3 522.4L1447.9 527.7L1448.5 532.9L1449.1 538.1L1449.7 543.2L1450.3 548.4L1450.9 553.5L1451.5 558.6L1452.1 563.6L1452.7 568.6L1453.3 573.6L1453.8 578.6L1454.4 583.5L1455.0 588.4L1455.5 593.3L1456.1 598.1L1456.7 602.9L1457.2 607.7L1457.8 612.5L1458.3 617.3L1458.9 622.0L1459.4 626.7L1460.0 631.4L1460.6 636.0L1461.1 640.7L1461.7 645.3L1462.3 649.8L1462.9 654.3L1463.5 658.8L1464.0 663.2L1464.6 667.7L1465.2 672.1L1465.8 676.5L1466.4 681.0L1467.0 685.5L1467.6 689.9L1468.2 694.5L1468.8 699.1L1469.5 703.6L1470.1 708.2L1470.7 712.8L1471.4 717.4L1472.0 722.0L1472.7 726.7L1473.3 731.3L1474.0 736.0L1474.6 740.7L1475.3 745.5L1476.0 750.3L1476.6 755.1L1477.3 760.0L1478.0 765.0L1478.7 770.0L1479.4 775.1L1480.1 780.3L1480.9 785.5L1481.6 790.8L1482.3 796.1L1483.1 801.4L1483.8 806.7L1484.5 812.1L1485.3 817.4L1486.0 822.8L1486.8 828.1L1487.5 833.4L1488.2 838.6L1489.0 843.9L1489.7 849.2L1490.5 854.5L1491.2 860.0L1492.0 865.4L1492.7 870.9L1493.5 876.4L1494.3 881.8L1495.0 887.2L1495.8 892.4L1496.5 897.6L1497.2 902.7L1498.0 907.5L1498.7 912.3L1499.4 916.8L1500.0 921.0L1500.7 925.0L1501.3 928.7L1501.9 932.2L1502.5 935.6L1503.1 938.9L1503.7 942.3L1504.3 945.7L1504.9 949.3L1505.6 953.1L1506.3 957.3L1507.0 961.8L1507.8 966.6L1508.6 971.8L1509.4 977.2L1510.3 982.9L1511.2 988.7L1512.1 994.8L1513.0 1000.9L1514.0 1007.2L1515.0 1013.5L1515.9 1019.9L1516.9 1026.2L1517.9 1032.5L1518.8 1038.7L1519.8 1044.8L1520.7 1050.8L1521.7 1056.5L1522.6 1062.2L1523.6 1068.0L1524.6 1074.1L1525.7 1080.3L1526.8 1086.6L1527.9 1092.9L1528.9 1099.1L1530.0 1105.1L1531.1 1111.0L1532.1 1116.7L1533.0 1122.0L1533.9 1126.9L1534.7 1131.3L1535.4 1135.3L1536.0 1138.6L1536.5 1141.3L1536.9 1143.6L1537.2 1145.7L1537.5 1147.5L1537.8 1148.9L1538.0 1150.0" stroke="#edb120" stroke-width="8.0"/>
<path d="M432.3 1150.0L432.4 1148.9L432.5 1147.4L432.6 1145.7L432.8 1143.7L433.0 1141.5L433.1 1138.9L433.4 1135.8L433.6 1132.1L433.9 1127.9L434.2 1123.4L434.5 1118.5L434.8 1113.4L435.2 1108.2L435.5 1102.9L435.8 1097.6L436.2 1092.4L436.5 1087.3L436.9 1082.5L437.2 1078.0L437.5 1073.7L437.9 1069.5L438.2 1065.4L438.6 1061.2L438.9 1057.1L439.3 1053.1L439.7 1049.0L440.0 1045.0L440.3 1041.0L440.7 1036.9L441.0 1032.9L441.3 1028.8L441.6 1024.8L441.9 1020.7L442.1 1016.6L442.4 1012.5L442.6 1008.5L442.8 1004.4L443.1 1000.3L443.3 996.3L443.5 992.2L443.8 988.1L444.0 984.1L444.2 980.0L444.5 975.9L444.7 971.8L445.0 967.7L445.2 963.6L445.5 959.4L445.7 955.3L446.0 951.2L446.2 947.1L446.5 942.9L446.7 938.8L447.0 934.7L447.2 930.6L447.5 926.5L447.8 922.4L448.0 918.3L448.3 914.3L448.6 910.2L448.9 906.1L449.1 902.1L449.4 898.0L449.7 893.9L450.0 889.9L450.2 885.8L450.5 881.8L450.7 877.7L451.0 873.6L451.2 869.6L451.4 865.5L451.7 861.4L451.9 857.4L452.1 853.3L452.3 849.2L452.6 845.1L452.8 841.1L453.0 837.0L453.2 832.9L453.4 828.9L453.6 824.8L453.8 820.7L454.0 816.7L454.1 812.6L454.3 808.5L454.5 804.5L454.6 800.4L454.8 796.3L455.0 792.2L455.2 788.2L455.3 784.1L455.5 780.0L455.7 775.9L455.9 771.8L456.2 767.6L456.4 763.5L456.6 759.4L456.9 755.2L457.1 751.1L457.4 746.9L457.6 742.8L457.9 738.6L458.1 734.5L458.3 730.4L458.5 726.3L458.7 722.2L458.9 718.1L459.1 714.0L459.3 709.9L459.5 705.9L459.7 701.8L459.9 697.8L460.1 693.7L460.2 689.6L460.4 685.6L460.6 681.5L460.7 677.4L460.9 673.3L461.0 669.2L461.1 665.1L461.3 661.0L461.4 656.9L461.5 652.7L461.6 648.6L461.7 644.5L461.8 640.4L461.9 636.2L462.1 632.1L462.2 628.0L462.3 623.9L462.4 619.8L462.6 615.7L462.7 611.7L462.9 607.6L463.0 603.5L463.2 599.5L463.3 595.4L463.5 591.3L463.6 587.3L463.8 583.2L463.9 579.1L464.1 575.1L464.2 571.0L464.4 567.0L464.5 563.0L464.7 559.1L464.8 555.2L465.0 551.2L465.1 547.2L465.3 543.2L465.4 539.1L465.5 535.0L465.7 530.7L465.8 526.4L466.0 521.9L466.1 517.3L466.3 512.6L466.4 507.7L466.5 502.8L466.7 497.8L466.8 492.7L467.0 487.6L467.1 482.5L467.2 477.4L467.4 472.2L467.5 467.1L467.7 462.0L467.8 457.0L467.9 452.0L468.1 447.1L468.2 442.2L468.4 437.4L468.5 432.5L468.6 427.7L468.8 422.9L468.9 418.1L469.0 413.3L469.2 408.5L469.3 403.7L469.5 398.9L469.6 394.1L469.7 389.3L469.9 384.4L470.0 379.6L470.1 374.8L470.3 369.9L470.4 365.1L470.6 360.2L470.7 355.3L470.8 350.4L471.0 345.5L471.1 340.7L471.2 335.8L471.4 331.0L471.5 326.2L471.7 321.4L471.8 316.7L471.9 312.0L472.1 307.4L472.2 302.8L472.4 298.3L472.5 293.8L472.7 289.3L472.8 284.8L473.0 280.4L473.1 276.0L473.3 271.6L473.4 267.2L473.6 262.8L473.7 258.3L473.9 253.9L474.0 249.4L474.2 244.9L474.3 240.4L474.5 235.8L474.6 231.2L474.8 226.6L474.9 222.0L475.1 217.4L475.2 212.8L475.4 208.3L475.5 203.9L475.7 199.6L475.8 195.4L476.0 191.3L476.1 187.3L476.2 183.3L476.4 179.4L476.5 175.5L476.6 171.7L476.8 168.0L476.9 164.4L477.0 160.8L477.2 157.4L477.3 154.1L477.5 150.9L477.6 147.9L477.8 145.0L477.9 142.2L478.1 139.6L478.3 137.0L478.4 134.4L478.7 131.8L478.9 129.2L479.2 126.4L479.5 123.1L479.9 119.5L480.4 115.8L480.9 112.4L481.5 109.3L482.0 106.9L482.6 105.4L483.1 105.0L483.6 105.8L484.2 107.5L484.8 109.9L485.3 112.6L486.0 115.6L486.6 118.4L487.2 120.9L488.0 123.8L488.8 127.1L489.6 130.5L490.4 133.9L491.2 136.8L491.9 139.2L492.6 140.6L493.1 140.9L493.6 139.6L494.0 136.6L494.3 132.3L494.7 127.1L495.0 121.2L495.3 115.0L495.5 108.8L495.8 102.8L496.2 97.5L496.5 93.0L496.9 89.8L497.3 88.2L497.8 88.3L498.3 89.7L498.9 92.2L499.5 95.3L500.2 98.8L500.9 102.4L501.7 105.8L502.5 108.6L503.3 110.6L504.2 112.5L505.1 114.3L506.1 115.8L507.2 116.8L508.3 117.0L509.4 116.1L510.5 114.4L511.7 112.1L512.9 109.3L514.1 106.3L515.3 103.4L516.6 100.8L517.8 98.5L519.1 95.9L520.5 93.1L521.9 90.3L523.3 87.8L524.6 85.7L525.9 84.4L527.1 84.0L528.2 85.0L529.3 87.3L530.3 90.4L531.3 93.9L532.3 97.3L533.3 100.0L534.4 101.7L535.4 101.9L536.6 100.9L537.7 99.1L538.9 96.8L540.0 94.1L541.2 91.5L542.4 89.1L543.5 87.2L544.6 85.1L545.7 82.9L546.8 80.8L547.9 79.2L549.2 78.2L550.6 78.0L552.2 78.3L554.1 78.8L556.0 79.3L557.9 79.8L559.7 80.0L561.4 79.6L563.0 78.2L564.6 76.1L566.1 73.5L567.7 71.0L569.3 68.6L570.9 66.7L572.7 65.6L574.6 64.7L576.5 63.9L578.6 63.2L580.7 62.6L582.8 62.2L585.0 62.0" stroke="#7e2f8e" stroke-width="8.0" stroke-dasharray="25 25.4" stroke-dashoffset="40.76"/>
<path d="M585.0 62.0L586.8 63.0L588.6 63.9L590.4 64.8L592.2 65.6L594.1 66.2L596.0 66.8L598.0 67.3L599.9 67.6L601.9 67.9L603.9 68.0L606.0 68.0L608.0 67.8L610.0 67.4L612.1 66.9L614.1 66.3L616.2 65.7L618.3 65.0L620.5 64.3L622.8 63.7L625.2 63.2L627.6 62.8L630.2 62.6L632.9 62.5L635.9 62.4L639.2 62.4L642.7 62.3L646.3 62.3L650.2 62.3L654.2 62.2L658.2 62.2L662.3 62.2L666.5 62.1L670.6 62.1L674.7 62.1L678.6 62.1L682.5 62.0L686.2 62.0L689.7 62.0L693.0 62.0L696.0 62.0L698.7 62.0L701.1 62.0L703.2 62.0L705.3 62.1L707.2 62.1L709.0 62.2L710.8 62.3L712.5 62.5L714.1 62.6L715.8 62.8L717.5 62.9L719.1 63.2L720.8 63.8L722.4 64.7L723.9 65.8L725.4 66.9L727.0 68.1L728.5 69.2L730.1 70.1L731.7 70.7L733.3 71.0L735.1 71.2L736.8 71.3L738.7 71.4L740.5 71.5L742.4 71.6L744.2 71.7L746.0 71.7L747.8 71.8L749.5 72.0L751.1 72.1L752.8 72.4L754.4 72.7L756.0 73.0L757.5 73.4L758.9 73.7L760.3 73.9L761.6 74.0L762.8 73.8L763.9 73.0L765.0 71.6L766.1 70.0L767.0 68.3L767.9 66.8L768.8 65.6L769.5 65.0L770.2 65.1L770.9 65.6L771.5 66.5L772.1 67.7L772.7 69.4L773.3 71.4L773.8 73.7L774.3 76.5L774.7 79.5L775.1 82.9L775.5 86.6L775.8 90.6L776.0 95.0" stroke="#7e2f8e" stroke-width="8.0" stroke-dasharray="25 25.4" stroke-dashoffset="13.39"/>
<path d="M776.0 95.0L776.5 97.6L776.9 100.2L777.4 102.9L777.8 105.6L778.3 108.4L778.8 111.2L779.2 114.1L779.7 117.0L780.2 120.0L780.7 123.1L781.2 126.2L781.7 129.4L782.2 132.6L782.7 136.0L783.2 139.4L783.7 142.8L784.2 146.3L784.7 149.9L785.3 153.4L785.8 157.0L786.3 160.6L786.8 164.2L787.4 167.8L787.9 171.4L788.5 175.0L789.0 178.6L789.6 182.2L790.1 185.9L790.7 189.6L791.3 193.3L791.8 197.0L792.4 200.7L793.0 204.4L793.6 208.1L794.1 211.9L794.7 215.6L795.2 219.3L795.8 223.0L796.3 226.8L796.9 230.5L797.4 234.3L798.0 238.1L798.5 241.9L799.0 245.7L799.5 249.4L800.1 253.2L800.6 257.0L801.2 260.8L801.7 264.6L802.3 268.3L802.9 272.1L803.5 275.8L804.0 279.5L804.7 283.2L805.3 286.9L805.9 290.6L806.5 294.3L807.2 298.0L807.8 301.7L808.4 305.4L809.1 309.1L809.8 312.7L810.4 316.4L811.1 320.0L811.8 323.7L812.5 327.3L813.2 330.9L813.9 334.5L814.5 338.1L815.2 341.7L815.9 345.3L816.7 348.9L817.4 352.4L818.1 356.0L818.9 359.6L819.6 363.2L820.4 366.7L821.2 370.3L822.1 373.9L822.9 377.6L823.8 381.2L824.7 384.9L825.6 388.5L826.5 392.2L827.5 395.9L828.5 399.6L829.5 403.3L830.5 406.9L831.5 410.6L832.6 414.2L833.7 417.8L834.8 421.4L835.9 424.9L837.0 428.4L838.1 431.9L839.3 435.4L840.5 438.9L841.7 442.3L842.9 445.8L844.1 449.2L845.4 452.6L846.7 456.0L848.1 459.3L849.4 462.7L850.9 466.0L852.3 469.3L853.8 472.5L855.4 475.9L857.0 479.4L858.7 482.9L860.5 486.5L862.3 490.0L864.2 493.5L866.1 496.9L868.0 500.1L869.9 503.2L871.8 506.1L873.7 508.8L875.6 511.2L877.5 513.2L879.4 515.1L881.4 516.9L883.3 518.6L885.3 520.2L887.3 521.6L889.3 522.9L891.3 524.1L893.2 525.2L895.1 526.0L897.0 526.8L898.8 527.6L900.6 528.4L902.4 529.0L904.3 529.5L906.1 529.9L907.9 530.0L909.8 529.9L911.6 529.4L913.5 528.8L915.4 527.9L917.3 527.0L919.1 525.9L921.0 524.9L922.8 523.8L924.6 522.5L926.4 521.0L928.2 519.3L929.9 517.4L931.7 515.5L933.4 513.5L935.1 511.5L936.8 509.5L938.4 507.5L940.0 505.5L941.6 503.6L943.2 501.6L944.7 499.5L946.2 497.4L947.7 495.2L949.2 493.0L950.7 490.6L952.1 488.1L953.6 485.5L955.1 482.7L956.5 479.7L958.0 476.5L959.4 473.2L960.8 469.8L962.2 466.2L963.6 462.6L965.0 459.0L966.4 455.3L967.7 451.6L969.0 448.0L970.3 444.4L971.5 440.8L972.7 437.4L973.9 433.9L975.0 430.4L976.2 426.9L977.3 423.4L978.4 419.8L979.5 416.3L980.5 412.8L981.5 409.2L982.6 405.7L983.5 402.1L984.5 398.6L985.5 395.0L986.4 391.5L987.3 387.9L988.2 384.4L989.0 380.8L989.9 377.2L990.7 373.7L991.6 370.1L992.4 366.5L993.2 362.9L993.9 359.4L994.7 355.8L995.5 352.2L996.2 348.5L996.9 344.9L997.6 341.3L998.3 337.6L999.0 333.9L999.7 330.2L1000.3 326.5L1000.9 322.8L1001.6 319.1L1002.2 315.3L1002.8 311.6L1003.4 307.9L1004.0 304.3L1004.7 300.6L1005.3 297.0L1005.9 293.4L1006.6 289.8L1007.3 286.4L1008.0 282.9L1008.7 279.5L1009.4 276.1L1010.2 272.7L1010.9 269.3L1011.6 265.9L1012.3 262.6L1013.0 259.2L1013.7 255.8L1014.3 252.3L1014.9 248.8L1015.5 245.3L1016.0 241.8L1016.6 238.2L1017.1 234.6L1017.6 231.0L1018.1 227.4L1018.5 223.8L1019.0 220.1L1019.5 216.5L1020.0 212.9L1020.4 209.2L1020.9 205.6L1021.4 202.0L1021.9 198.3L1022.4 194.7L1022.9 191.0L1023.4 187.3L1023.9 183.5L1024.4 179.7L1024.9 176.0L1025.4 172.3L1025.9 168.6L1026.4 164.9L1026.9 161.4L1027.4 157.9L1027.8 154.5L1028.2 151.2L1028.6 148.1L1029.0 145.0L1029.4 142.0L1029.7 139.1L1030.0 136.2L1030.3 133.4L1030.6 130.6L1031.0 127.9L1031.3 125.2L1031.6 122.6L1032.0 119.9L1032.4 117.4L1032.8 114.8L1033.2 112.4L1033.6 109.9L1034.1 107.5L1034.5 105.1L1035.0 102.8L1035.5 100.5L1036.0 98.2L1036.5 95.9L1037.0 93.6L1037.6 91.4L1038.1 89.1L1038.7 86.9L1039.4 84.8L1040.0 82.7L1040.7 80.8L1041.4 78.8L1042.2 76.7L1043.0 74.5L1043.9 72.4L1044.8 70.6L1045.7 69.2L1046.7 68.6L1047.6 68.7L1048.6 69.6L1049.6 71.0L1050.6 72.9L1051.6 75.0L1052.6 77.2L1053.6 79.2L1054.6 81.1L1055.5 83.0L1056.5 85.1L1057.4 87.2L1058.3 89.3L1059.3 91.4L1060.3 93.5L1061.2 95.5L1062.2 97.4L1063.2 99.5L1064.2 101.8L1065.2 104.1L1066.2 106.2L1067.3 108.0L1068.4 109.3L1069.6 110.0L1070.9 109.9L1072.4 109.4L1074.0 108.5L1075.7 107.4L1077.4 106.1L1079.0 104.7L1080.6 103.3L1082.1 101.9L1083.7 100.1L1085.2 98.1L1086.7 95.9L1088.2 93.6L1089.7 91.1L1091.1 88.7L1092.5 86.3L1093.8 84.0L1095.1 81.8L1096.3 79.8L1097.4 77.7L1098.5 75.6L1099.5 73.5L1100.6 71.5L1101.6 69.7L1102.7 67.9L1103.8 66.3L1104.9 64.7L1106.1 63.1L1107.3 61.4L1108.5 60.0L1109.7 58.8L1111.1 58.1L1112.5 58.0L1114.1 58.2L1115.9 58.7L1117.7 59.3L1119.6 60.1L1121.4 60.8L1123.2 61.6L1124.8 62.4L1126.2 63.3L1127.5 64.3L1128.9 65.4L1130.2 66.4L1131.7 67.3L1133.3 68.1L1135.0 68.8L1136.9 69.4L1139.0 69.9L1141.0 70.5L1143.1 71.0L1145.2 71.4L1147.2 71.8L1149.1 72.2L1150.9 72.6L1152.7 73.0L1154.5 73.4L1156.3 73.7L1158.0 73.9L1159.7 74.0L1161.4 73.7L1163.0 72.7L1164.6 71.3L1166.1 69.7L1167.7 68.1L1169.4 66.8L1171.1 66.1L1173.0 66.0L1175.0 66.0L1177.0 66.0L1179.2 66.0L1181.4 66.0L1183.7 66.0L1186.0 66.0L1188.4 66.0L1190.9 66.0L1193.4 65.9L1195.9 65.7L1198.5 65.4L1201.2 65.1L1203.9 64.7L1206.7 64.4L1209.7 64.1L1212.7 63.8L1215.9 63.6L1219.3 63.5L1222.8 63.5L1226.7 63.5L1230.8 63.5L1235.2 63.5L1239.8 63.5L1244.6 63.5L1249.5 63.5L1254.5 63.5L1259.6 63.5L1264.6 63.5L1269.7 63.5L1274.8 63.5L1279.8 63.5L1284.6 63.5L1289.3 63.5L1293.9 63.5L1298.2 63.5L1302.3 63.5L1306.4 63.5L1310.6 63.5L1314.7 63.5L1318.8 63.6L1322.8 63.6L1326.7 63.6L1330.5 63.6L1334.2 63.7L1337.8 63.7L1341.1 63.8L1344.3 63.9L1347.2 63.9L1349.9 64.0L1352.3 64.3L1354.5 65.0L1356.5 66.1L1358.4 67.2L1360.2 68.5L1362.1 69.6L1363.9 70.5L1365.8 71.0L1367.8 71.2L1369.8 71.3L1371.8 71.4L1373.8 71.5L1375.8 71.6L1377.7 71.7L1379.5 71.9L1381.1 72.3L1382.7 73.0L1384.2 74.0L1385.7 75.3L1387.1 76.7L1388.4 78.2L1389.7 79.7L1390.9 81.2L1392.1 83.0L1393.2 84.9L1394.3 87.0L1395.3 89.2L1396.3 91.4L1397.3 93.6L1398.3 95.7L1399.3 97.6L1400.4 99.5L1401.5 101.4L1402.6 103.2L1403.6 105.0L1404.6 106.8L1405.6 108.7L1406.5 110.7L1407.3 112.8L1408.1 115.0L1408.8 117.3L1409.5 119.6L1410.2 122.0L1410.9 124.5L1411.5 127.0L1412.0 129.6L1412.5 132.3L1413.0 135.0" stroke="#7e2f8e" stroke-width="8.0" stroke-dasharray="25 25.4" stroke-dashoffset="32.33"/>
<path d="M1413.0 135.0L1413.3 139.3L1413.7 143.6L1414.0 148.0L1414.3 152.5L1414.6 157.0L1414.9 161.6L1415.2 166.2L1415.5 171.0L1415.8 175.8L1416.0 180.6L1416.3 185.5L1416.5 190.6L1416.7 195.7L1417.0 200.9L1417.2 206.1L1417.4 211.4L1417.6 216.8L1417.8 222.2L1418.0 227.6L1418.2 233.1L1418.4 238.5L1418.7 244.0L1418.9 249.6L1419.1 255.2L1419.4 261.0L1419.6 266.7L1419.8 272.5L1420.0 278.3L1420.3 284.1L1420.5 289.8L1420.8 295.5L1421.1 301.2L1421.3 306.8L1421.6 312.3L1421.9 317.8L1422.3 323.2L1422.6 328.6L1423.0 334.0L1423.3 339.3L1423.7 344.7L1424.1 349.9L1424.4 355.2L1424.8 360.4L1425.1 365.5L1425.5 370.6L1425.8 375.6L1426.1 380.6L1426.4 385.5L1426.8 390.4L1427.1 395.2L1427.4 400.0L1427.7 404.8L1428.0 409.6L1428.3 414.3L1428.6 419.1L1428.9 424.0L1429.2 428.8L1429.6 433.6L1429.9 438.4L1430.2 443.2L1430.5 448.0L1430.8 452.8L1431.1 457.6L1431.5 462.4L1431.8 467.2L1432.1 472.0L1432.4 476.8L1432.8 481.6L1433.1 486.5L1433.4 491.3L1433.8 496.1L1434.1 500.9L1434.4 505.8L1434.8 510.6L1435.1 515.4L1435.4 520.3L1435.6 525.1L1435.9 529.9L1436.2 534.7L1436.4 539.6L1436.6 544.4L1436.9 549.2L1437.1 554.1L1437.3 558.9L1437.6 563.7L1437.8 568.6L1438.1 573.4L1438.4 578.2L1438.7 583.0L1439.1 587.9L1439.4 592.7L1439.8 597.5L1440.2 602.3L1440.5 607.2L1440.9 612.0L1441.2 616.8L1441.6 621.6L1441.9 626.5L1442.2 631.3L1442.5 636.1L1442.8 641.0L1443.1 645.8L1443.3 650.6L1443.6 655.5L1443.9 660.3L1444.2 665.1L1444.5 669.9L1444.9 674.7L1445.2 679.6L1445.6 684.4L1445.9 689.2L1446.3 694.0L1446.7 698.7L1447.1 703.5L1447.5 708.3L1447.9 713.1L1448.3 717.9L1448.7 722.7L1449.1 727.6L1449.5 732.4L1449.8 737.2L1450.2 742.0L1450.6 746.8L1451.0 751.7L1451.4 756.5L1451.7 761.3L1452.1 766.2L1452.5 771.0L1452.9 775.8L1453.3 780.6L1453.7 785.5L1454.1 790.3L1454.5 795.1L1454.9 800.0L1455.3 804.8L1455.7 809.6L1456.1 814.4L1456.5 819.2L1456.9 824.1L1457.3 828.9L1457.7 833.7L1458.1 838.5L1458.4 843.3L1458.8 848.1L1459.2 852.9L1459.6 857.7L1459.9 862.5L1460.3 867.3L1460.7 872.1L1461.2 876.9L1461.6 881.7L1462.1 886.5L1462.6 891.3L1463.1 896.1L1463.6 901.0L1464.1 905.8L1464.6 910.6L1465.1 915.4L1465.6 920.3L1466.1 925.1L1466.5 929.9L1467.0 934.7L1467.5 939.5L1467.9 944.4L1468.4 949.2L1468.9 954.0L1469.3 958.8L1469.8 963.6L1470.3 968.5L1470.7 973.3L1471.2 978.1L1471.7 982.9L1472.1 987.8L1472.6 992.6L1473.0 997.4L1473.5 1002.2L1473.9 1007.0L1474.4 1011.9L1474.8 1016.7L1475.3 1021.5L1475.8 1026.3L1476.3 1031.1L1476.7 1036.0L1477.2 1040.8L1477.7 1045.6L1478.2 1050.4L1478.7 1055.3L1479.1 1060.1L1479.6 1064.9L1480.1 1069.7L1480.6 1074.5L1481.2 1079.4L1481.7 1084.3L1482.3 1089.4L1482.8 1094.5L1483.4 1099.7L1484.0 1104.7L1484.6 1109.7L1485.1 1114.5L1485.6 1119.1L1486.1 1123.4L1486.5 1127.4L1486.9 1131.1L1487.3 1134.7L1487.6 1138.1L1488.0 1141.4L1488.3 1144.4L1488.5 1147.3L1488.8 1150.0" stroke="#7e2f8e" stroke-width="8.0" stroke-dasharray="25 25.4" stroke-dashoffset="27.17"/>
<path d="M448.6 1150.0L448.6 1148.9L448.7 1147.6L448.7 1146.0L448.8 1144.1L448.9 1142.1L448.9 1139.8L449.0 1136.9L449.2 1133.6L449.3 1129.8L449.4 1125.7L449.6 1121.2L449.8 1116.5L450.0 1111.6L450.2 1106.6L450.3 1101.5L450.5 1096.5L450.7 1091.6L450.9 1086.8L451.1 1082.2L451.3 1078.0L451.5 1073.9L451.7 1069.8L451.9 1065.9L452.1 1061.9L452.2 1058.0L452.4 1054.1L452.6 1050.3L452.8 1046.4L453.0 1042.6L453.2 1038.7L453.4 1034.9L453.6 1031.0L453.8 1027.2L454.0 1023.3L454.2 1019.4L454.3 1015.6L454.5 1011.7L454.7 1007.9L454.9 1004.1L455.0 1000.2L455.2 996.4L455.4 992.5L455.5 988.7L455.7 984.8L455.9 981.0L456.0 977.1L456.2 973.2L456.3 969.3L456.5 965.4L456.6 961.5L456.8 957.6L456.9 953.7L457.1 949.7L457.2 945.8L457.3 941.9L457.5 938.0L457.6 934.1L457.8 930.2L457.9 926.3L458.0 922.4L458.2 918.5L458.3 914.7L458.5 910.8L458.6 906.9L458.7 903.1L458.9 899.2L459.0 895.3L459.1 891.5L459.3 887.6L459.4 883.8L459.6 879.9L459.7 876.0L459.9 872.2L460.0 868.3L460.2 864.4L460.4 860.6L460.6 856.7L460.7 852.9L460.9 849.0L461.1 845.1L461.3 841.3L461.4 837.4L461.6 833.5L461.8 829.7L461.9 825.8L462.1 821.9L462.2 818.1L462.4 814.2L462.5 810.4L462.7 806.5L462.8 802.7L462.9 798.8L463.1 794.9L463.2 791.1L463.4 787.2L463.5 783.3L463.6 779.4L463.7 775.5L463.9 771.6L464.0 767.6L464.1 763.6L464.2 759.6L464.3 755.6L464.4 751.6L464.5 747.6L464.6 743.6L464.7 739.7L464.9 735.7L465.0 731.7L465.1 727.8L465.2 723.9L465.3 720.0L465.4 716.2L465.6 712.3L465.7 708.5L465.8 704.7L466.0 700.9L466.1 697.1L466.2 693.3L466.4 689.5L466.5 685.7L466.6 681.9L466.7 678.0L466.8 674.2L466.9 670.3L467.0 666.4L467.1 662.5L467.2 658.6L467.3 654.7L467.4 650.8L467.5 646.8L467.6 642.9L467.7 639.0L467.8 635.1L467.9 631.2L468.0 627.3L468.1 623.4L468.2 619.5L468.3 615.6L468.5 611.7L468.6 607.9L468.7 604.0L468.8 600.1L468.9 596.3L469.1 592.4L469.2 588.6L469.3 584.7L469.4 580.9L469.5 577.0L469.6 573.1L469.7 569.2L469.8 565.3L470.0 561.4L470.1 557.5L470.2 553.5L470.3 549.6L470.4 545.7L470.5 541.8L470.6 537.9L470.6 534.1L470.7 530.3L470.8 526.6L470.8 523.0L470.9 519.5L470.9 516.1L470.9 512.7L471.0 509.5L471.0 506.2L471.0 503.0L471.1 499.6L471.1 496.2L471.1 492.7L471.2 489.0L471.2 485.0L471.2 480.9L471.3 476.6L471.4 472.0L471.4 467.3L471.5 462.5L471.6 457.5L471.6 452.4L471.7 447.2L471.8 442.0L471.9 436.6L472.0 431.3L472.1 425.9L472.2 420.6L472.2 415.2L472.3 409.9L472.4 404.7L472.5 399.6L472.6 394.4L472.7 389.2L472.8 384.0L472.9 378.6L473.0 373.3L473.0 367.9L473.1 362.6L473.2 357.2L473.3 351.9L473.4 346.6L473.5 341.3L473.6 336.2L473.7 331.1L473.8 326.1L473.9 321.2L474.0 316.4L474.1 311.8L474.2 307.3L474.2 302.8L474.3 298.5L474.4 294.2L474.4 290.0L474.5 285.8L474.6 281.7L474.6 277.7L474.7 273.7L474.8 269.8L474.9 266.0L475.0 262.2L475.1 258.4L475.2 254.7L475.4 251.1L475.6 247.6L475.9 244.1L476.2 240.7L476.5 237.4L476.9 234.1L477.2 230.8L477.6 227.6L477.9 224.3L478.2 221.1L478.5 217.9L478.7 214.6L479.0 211.4L479.2 208.2L479.4 205.0L479.6 201.8L479.8 198.7L480.1 195.5L480.3 192.5L480.6 189.5L480.8 186.5L481.2 183.6L481.5 180.8L481.9 178.1L482.4 175.4L482.9 172.7L483.3 170.1L483.8 167.4L484.3 164.7L484.7 162.0L485.1 159.2L485.5 156.3L485.9 153.4L486.3 150.4L486.6 147.5L487.0 144.5L487.3 141.5L487.7 138.4L488.0 135.4L488.3 132.3L488.6 129.2L488.8 125.7L489.1 121.8L489.3 117.6L489.5 113.3L489.7 109.2L489.9 105.3L490.2 101.9L490.4 99.1L490.6 97.1L490.9 96.1L491.2 96.2L491.5 97.4L491.8 99.4L492.2 102.0L492.5 105.2L492.9 108.5L493.3 111.9L493.6 115.1L494.0 117.9L494.3 120.5L494.7 123.2L495.0 125.8L495.3 128.5L495.7 131.2L496.0 133.7L496.4 136.2L496.8 138.6L497.1 140.8L497.6 143.3L498.0 145.9L498.5 148.4L499.0 150.6L499.4 152.2L499.9 153.0L500.3 152.7L500.7 151.5L501.2 149.5L501.6 146.9L502.0 143.8L502.4 140.5L502.8 137.2L503.2 134.1L503.6 131.3L504.0 128.6L504.3 125.7L504.6 122.9L505.0 119.9L505.3 117.0L505.6 114.0L506.0 111.1L506.4 108.2L506.8 105.3L507.3 102.3L507.8 99.0L508.4 95.4L509.0 91.6L509.6 87.9L510.3 84.5L511.0 81.6L511.7 79.2L512.3 77.6L513.0 77.0L513.6 77.5L514.2 79.0L514.8 81.3L515.4 84.1L516.1 87.2L516.7 90.3L517.3 93.2L517.9 95.7L518.5 97.8L519.1 99.8L519.6 101.8L520.2 103.7L520.8 105.4L521.5 107.1L522.3 108.5L523.3 110.0L524.4 111.5L525.7 112.8L526.9 113.7L528.0 114.0L529.1 113.6L530.2 112.5L531.3 111.0L532.3 109.2L533.3 107.3L534.2 105.6L535.1 103.7L535.9 101.6L536.6 99.3L537.3 96.9L538.0 94.5L538.8 92.1L539.5 89.6L540.2 87.3L541.0 84.6L541.7 81.6L542.4 78.5L543.1 75.5L543.9 72.9L544.6 70.8L545.4 69.4L546.1 69.0L546.9 69.7L547.6 71.1L548.4 73.1L549.2 75.4L550.0 77.6L550.8 79.6L551.7 81.4L552.6 83.5L553.5 85.6L554.4 87.6L555.4 89.1L556.5 89.9L557.7 89.9L559.0 89.2L560.4 88.0L561.8 86.5L563.3 84.8L564.8 83.2L566.3 81.7L567.8 80.3L569.2 78.8L570.7 77.3L572.1 75.8L573.6 74.3L575.0 72.9L576.5 71.5L577.9 70.2L579.3 68.9L580.8 67.6L582.2 66.4L583.6 65.2L585.0 64.0" stroke="#77ac30" stroke-width="8.0" stroke-dasharray="25 6.8 12 6.65" stroke-dashoffset="40.74"/>
<path d="M585.0 64.0L586.8 65.2L588.6 66.3L590.4 67.3L592.3 68.1L594.2 68.9L596.1 69.5L598.0 70.0L600.0 70.4L602.0 70.7L604.0 70.8L606.1 70.8L608.1 70.5L610.2 70.0L612.3 69.3L614.4 68.5L616.5 67.6L618.7 66.7L620.9 65.8L623.2 65.0L625.5 64.3L627.9 63.7L630.4 63.4L633.0 63.2L635.7 63.2L638.6 63.1L641.5 63.0L644.6 62.9L647.8 62.8L651.0 62.8L654.3 62.7L657.6 62.7L660.8 62.6L664.1 62.6L667.3 62.6L670.4 62.5L673.4 62.5L676.4 62.5L679.2 62.5L681.8 62.5L684.4 62.5L687.0 62.5L689.5 62.5L691.9 62.5L694.3 62.5L696.7 62.5L699.0 62.5L701.4 62.5L703.6 62.5L705.9 62.5L708.2 62.5L710.5 62.5L712.8 62.6L715.1 62.9L717.4 63.2L719.6 63.7L721.9 64.2L724.1 64.9L726.3 65.5L728.4 66.2L730.5 66.9L732.5 67.6L734.4 68.3L736.2 68.9L738.0 69.6L739.7 70.3L741.4 71.1L743.0 71.9L744.6 72.7L746.1 73.5L747.6 74.4L749.0 75.4L750.5 76.3L751.9 77.6L753.2 79.0L754.6 80.6L755.9 82.2L757.2 83.8L758.4 85.1L759.6 86.2L760.7 86.8L761.7 87.0L762.7 86.3L763.6 84.8L764.5 82.7L765.3 80.2L766.2 77.6L766.9 75.0L767.7 72.6L768.5 70.7L769.3 69.4L770.1 69.0L770.8 69.2L771.6 69.7L772.4 70.6L773.1 71.8L773.8 73.3L774.6 75.2L775.3 77.4L776.0 80.0" stroke="#77ac30" stroke-width="8.0" stroke-dasharray="25 6.8 12 6.65" stroke-dashoffset="38.41"/>
<path d="M776.0 80.0L776.8 81.7L777.6 83.5L778.3 85.4L779.0 87.3L779.6 89.4L780.2 91.5L780.7 93.7L781.2 96.0L781.5 98.4L781.8 100.9L782.0 103.6L782.2 106.4L782.4 109.3L782.6 112.3L782.8 115.3L783.0 118.4L783.1 121.4L783.3 124.4L783.6 127.4L783.8 130.3L784.1 133.0L784.4 135.8L784.8 138.4L785.1 141.1L785.5 143.7L785.9 146.4L786.2 149.1L786.6 151.9L787.0 154.7L787.3 157.7L787.7 160.8L788.0 164.0L788.3 167.4L788.6 171.0L788.9 174.6L789.2 178.4L789.5 182.2L789.8 186.1L790.0 190.0L790.3 194.0L790.6 197.9L790.9 201.8L791.2 205.7L791.5 209.4L791.8 213.1L792.1 216.7L792.4 220.2L792.7 223.6L793.1 226.9L793.4 230.2L793.7 233.5L794.1 236.7L794.4 239.9L794.8 243.2L795.1 246.4L795.4 249.7L795.8 253.0L796.1 256.4L796.5 259.9L796.8 263.4L797.2 267.0L797.6 270.6L797.9 274.2L798.3 277.9L798.7 281.7L799.0 285.4L799.4 289.2L799.8 293.0L800.2 296.8L800.5 300.6L800.9 304.4L801.3 308.1L801.7 311.9L802.0 315.6L802.4 319.4L802.8 323.1L803.1 326.9L803.5 330.7L803.9 334.5L804.2 338.3L804.6 342.1L805.0 345.8L805.4 349.6L805.7 353.3L806.1 357.1L806.5 360.7L806.9 364.4L807.3 368.0L807.7 371.5L808.1 375.0L808.4 378.5L808.9 382.0L809.3 385.5L809.7 389.0L810.1 392.5L810.5 395.9L810.9 399.2L811.3 402.5L811.7 405.8L812.2 408.9L812.6 411.9L813.0 414.9L813.4 417.7L813.8 420.4L814.3 423.0L814.7 425.4L815.1 427.8L815.5 430.1L815.9 432.5L816.4 435.0L816.8 437.5L817.3 440.1L817.8 443.0L818.3 445.9L818.8 449.0L819.3 452.2L819.9 455.5L820.5 458.8L821.1 462.2L821.7 465.7L822.3 469.1L822.9 472.6L823.5 476.1L824.1 479.5L824.7 482.9L825.3 486.3L826.0 489.6L826.6 492.9L827.2 496.2L827.8 499.5L828.5 502.8L829.1 506.1L829.8 509.4L830.4 512.7L831.1 516.0L831.8 519.3L832.5 522.6L833.2 525.9L833.9 529.3L834.6 532.6L835.4 535.9L836.2 539.3L837.0 542.7L837.8 546.1L838.6 549.5L839.4 552.9L840.2 556.3L841.1 559.6L841.9 562.9L842.8 566.2L843.6 569.4L844.5 572.6L845.3 575.6L846.1 578.6L847.0 581.6L847.8 584.5L848.6 587.4L849.5 590.2L850.3 593.0L851.1 595.8L852.0 598.5L852.9 601.2L853.8 603.9L854.7 606.6L855.6 609.2L856.6 611.8L857.5 614.4L858.5 617.0L859.6 619.5L860.6 622.0L861.7 624.5L862.7 627.0L863.8 629.4L864.9 631.8L866.0 634.1L867.1 636.3L868.1 638.6L869.2 640.8L870.3 643.0L871.4 645.1L872.5 647.2L873.7 649.3L874.9 651.3L876.1 653.2L877.5 655.1L878.9 657.1L880.4 659.0L881.9 661.0L883.6 662.9L885.3 664.7L887.0 666.5L888.8 668.2L890.5 669.6L892.2 670.9L893.9 672.0L895.7 673.1L897.4 674.2L899.2 675.2L900.9 676.1L902.7 676.8L904.5 677.3L906.2 677.5L907.8 677.4L909.5 677.2L911.1 676.8L912.8 676.3L914.4 675.7L916.0 675.1L917.7 674.4L919.3 673.6L921.1 672.4L922.8 671.0L924.6 669.4L926.3 667.7L928.0 665.8L929.7 663.9L931.3 661.9L932.8 659.9L934.2 657.9L935.5 655.8L936.8 653.5L938.1 651.2L939.4 648.7L940.6 646.2L941.8 643.6L942.9 641.0L944.0 638.3L945.2 635.7L946.2 633.1L947.3 630.6L948.4 628.0L949.4 625.3L950.4 622.7L951.3 620.0L952.3 617.3L953.2 614.6L954.2 611.9L955.1 609.1L956.0 606.3L956.9 603.4L957.8 600.5L958.7 597.6L959.6 594.6L960.5 591.5L961.4 588.4L962.3 585.3L963.2 582.2L964.0 579.0L964.9 575.9L965.7 572.7L966.6 569.5L967.4 566.3L968.2 563.2L969.0 560.0L969.8 556.8L970.6 553.7L971.4 550.5L972.2 547.3L973.0 544.1L973.8 540.9L974.6 537.7L975.3 534.4L976.0 531.2L976.8 528.0L977.5 524.7L978.2 521.5L978.8 518.2L979.5 514.9L980.1 511.6L980.7 508.3L981.3 505.0L981.8 501.6L982.4 498.3L983.0 494.9L983.5 491.6L984.1 488.3L984.6 485.0L985.2 481.7L985.8 478.4L986.4 475.2L987.0 472.0L987.6 468.7L988.2 465.5L988.9 462.3L989.5 459.0L990.1 455.8L990.8 452.7L991.4 449.5L992.0 446.4L992.6 443.4L993.2 440.5L993.7 437.6L994.2 434.8L994.7 432.1L995.2 429.6L995.6 427.1L996.0 424.7L996.5 422.2L996.9 419.8L997.3 417.4L997.7 414.8L998.1 412.2L998.6 409.5L999.0 406.7L999.5 403.8L999.9 400.9L1000.4 398.0L1000.8 395.0L1001.3 391.9L1001.8 388.8L1002.2 385.6L1002.6 382.4L1003.1 379.2L1003.5 375.9L1003.9 372.6L1004.3 369.2L1004.7 365.7L1005.1 362.2L1005.5 358.5L1005.8 354.9L1006.2 351.1L1006.6 347.3L1006.9 343.5L1007.3 339.7L1007.6 335.9L1008.0 332.0L1008.4 328.2L1008.7 324.4L1009.1 320.6L1009.5 316.8L1009.8 313.1L1010.2 309.3L1010.6 305.6L1011.0 301.8L1011.4 298.0L1011.7 294.2L1012.1 290.4L1012.5 286.6L1012.9 282.9L1013.3 279.1L1013.6 275.4L1014.0 271.7L1014.4 268.1L1014.7 264.5L1015.1 261.0L1015.4 257.5L1015.8 254.1L1016.1 250.7L1016.5 247.4L1016.8 244.1L1017.2 240.9L1017.5 237.6L1017.9 234.4L1018.2 231.1L1018.5 227.8L1018.8 224.5L1019.1 221.2L1019.4 217.8L1019.7 214.3L1020.0 210.8L1020.2 207.2L1020.5 203.6L1020.7 199.9L1021.0 196.2L1021.2 192.6L1021.4 188.9L1021.7 185.2L1021.9 181.5L1022.1 177.9L1022.4 174.3L1022.6 170.8L1022.8 167.4L1023.1 164.0L1023.3 160.7L1023.5 157.3L1023.8 154.1L1024.0 150.8L1024.2 147.6L1024.5 144.4L1024.7 141.2L1024.9 138.1L1025.2 135.0L1025.4 132.0L1025.7 129.0L1025.9 126.0L1026.2 123.1L1026.4 120.2L1026.7 117.4L1026.9 114.5L1027.2 111.8L1027.4 109.0L1027.7 106.3L1028.0 103.6L1028.3 101.0L1028.6 98.4L1028.9 95.8L1029.2 93.1L1029.6 90.1L1030.0 86.9L1030.4 83.7L1030.8 80.5L1031.3 77.6L1031.7 75.0L1032.2 73.0L1032.7 71.6L1033.2 71.0L1033.8 71.3L1034.3 72.5L1034.9 74.3L1035.6 76.6L1036.3 79.2L1036.9 82.1L1037.6 84.9L1038.3 87.5L1039.0 89.9L1039.6 92.0L1040.3 94.1L1041.0 96.2L1041.6 98.3L1042.3 100.3L1043.0 102.4L1043.7 104.5L1044.4 106.5L1045.2 108.5L1045.9 110.8L1046.7 113.3L1047.5 115.9L1048.3 118.4L1049.1 120.7L1050.0 122.6L1050.9 123.9L1051.8 124.5L1052.8 124.3L1053.9 123.5L1055.1 122.2L1056.3 120.6L1057.5 118.9L1058.7 117.1L1059.8 115.4L1060.7 113.8L1061.6 112.1L1062.5 110.4L1063.3 108.5L1064.2 106.7L1065.0 104.7L1065.8 102.7L1066.7 100.7L1067.6 98.6L1068.5 96.4L1069.4 94.0L1070.4 91.5L1071.3 89.0L1072.3 86.5L1073.2 84.1L1074.2 81.8L1075.2 79.6L1076.2 77.6L1077.2 75.8L1078.2 74.0L1079.2 72.2L1080.2 70.6L1081.2 69.1L1082.3 67.7L1083.4 66.6L1084.4 65.6L1085.6 64.7L1086.7 63.8L1087.9 63.1L1089.1 62.6L1090.2 62.5L1091.2 63.0L1092.3 64.0L1093.3 65.5L1094.3 67.3L1095.3 69.1L1096.3 70.9L1097.3 72.4L1098.2 73.9L1099.0 75.5L1099.8 77.0L1100.6 78.6L1101.5 80.0L1102.5 81.4L1103.5 82.6L1104.6 83.8L1105.9 85.1L1107.2 86.3L1108.5 87.2L1109.9 87.8L1111.2 88.0L1112.6 87.8L1114.0 87.3L1115.5 86.6L1117.0 85.8L1118.4 84.9L1119.8 84.1L1121.2 83.2L1122.5 82.2L1123.8 81.0L1125.0 79.8L1126.3 78.6L1127.6 77.3L1128.9 76.0L1130.3 74.7L1131.7 73.3L1133.1 71.8L1134.5 70.3L1136.0 68.9L1137.4 67.6L1138.9 66.6L1140.4 65.8L1141.9 65.1L1143.4 64.5L1145.0 63.9L1146.5 63.5L1148.1 63.1L1149.7 63.0L1151.3 63.1L1153.0 63.4L1154.8 64.0L1156.5 64.6L1158.2 65.3L1159.9 66.1L1161.5 66.8L1163.1 67.5L1164.6 68.4L1166.1 69.4L1167.5 70.4L1169.0 71.2L1170.5 71.8L1172.1 72.0L1173.7 71.9L1175.4 71.6L1177.1 71.2L1178.9 70.7L1180.7 70.2L1182.6 69.6L1184.5 69.1L1186.5 68.6L1188.4 68.1L1190.4 67.4L1192.4 66.8L1194.5 66.2L1196.7 65.6L1199.0 65.1L1201.5 64.7L1204.2 64.5L1207.1 64.5L1210.3 64.4L1213.9 64.4L1217.7 64.3L1221.7 64.3L1225.9 64.2L1230.3 64.2L1234.9 64.1L1239.6 64.1L1244.3 64.1L1249.1 64.1L1254.0 64.0L1258.8 64.0L1263.6 64.0L1268.3 64.0L1273.0 64.0L1277.5 64.0L1281.9 64.0L1286.4 64.0L1291.1 64.0L1296.0 64.0L1300.9 64.0L1305.9 64.0L1311.0 64.1L1316.0 64.1L1320.9 64.1L1325.7 64.1L1330.4 64.2L1334.9 64.2L1339.1 64.2L1343.1 64.3L1346.7 64.3L1350.0 64.4L1352.9 64.4L1355.3 64.5L1357.4 64.9L1359.2 65.9L1360.9 67.1L1362.4 68.5L1363.8 70.0L1365.3 71.3L1366.8 72.4L1368.4 73.2L1370.2 73.8L1371.9 74.4L1373.7 74.9L1375.4 75.4L1377.1 75.7L1378.8 75.9L1380.4 76.0L1382.0 75.6L1383.7 74.9L1385.3 74.0L1386.8 73.1L1388.2 72.4L1389.4 72.0L1390.4 72.3L1391.3 73.2L1392.2 74.6L1392.9 76.4L1393.7 78.4L1394.4 80.4L1395.1 82.1L1395.7 83.9L1396.3 85.7L1396.9 87.6L1397.4 89.6L1398.0 91.5L1398.5 93.4L1399.1 95.3L1399.8 97.1L1400.5 98.8L1401.2 100.4L1402.0 102.1L1402.8 103.7L1403.6 105.2L1404.4 106.8L1405.1 108.3L1405.9 109.7L1406.7 111.0L1407.4 112.3L1408.2 113.6L1408.9 115.0L1409.5 116.5L1410.1 118.1L1410.7 119.9L1411.2 121.7L1411.7 123.6L1412.2 125.6L1412.7 127.6L1413.1 129.8L1413.5 132.0" stroke="#77ac30" stroke-width="8.0" stroke-dasharray="25 6.8 12 6.65" stroke-dashoffset="5.39"/>
<path d="M1413.5 132.0L1414.0 135.2L1414.5 138.5L1414.9 142.0L1415.3 145.7L1415.7 149.5L1416.1 153.5L1416.4 157.7L1416.7 162.0L1417.0 166.5L1417.2 171.4L1417.4 176.4L1417.6 181.6L1417.8 187.0L1418.0 192.5L1418.2 198.0L1418.4 203.5L1418.6 209.1L1418.8 214.6L1419.0 220.1L1419.2 225.7L1419.4 231.4L1419.6 237.1L1419.8 242.8L1420.0 248.6L1420.2 254.4L1420.4 260.3L1420.5 266.1L1420.7 271.9L1420.9 277.7L1421.0 283.4L1421.2 289.2L1421.3 294.9L1421.5 300.6L1421.6 306.3L1421.8 312.0L1421.9 317.7L1422.0 323.5L1422.1 329.2L1422.3 335.0L1422.4 340.7L1422.6 346.5L1422.7 352.3L1422.8 358.1L1423.0 363.8L1423.1 369.6L1423.3 375.4L1423.4 381.2L1423.6 387.1L1423.7 392.9L1423.9 398.8L1424.1 404.7L1424.2 410.6L1424.4 416.6L1424.5 422.7L1424.7 428.8L1424.9 435.0L1425.0 441.3L1425.2 447.5L1425.3 453.8L1425.5 460.1L1425.7 466.4L1425.9 472.7L1426.0 478.9L1426.2 485.0L1426.4 491.1L1426.7 497.1L1426.9 503.0L1427.2 508.8L1427.5 514.6L1427.8 520.3L1428.1 526.1L1428.4 531.7L1428.7 537.4L1429.0 543.1L1429.3 548.7L1429.6 554.4L1429.9 560.1L1430.2 565.8L1430.4 571.5L1430.7 577.1L1430.9 582.7L1431.2 588.3L1431.4 593.9L1431.6 599.5L1431.8 605.2L1432.1 611.0L1432.3 616.9L1432.6 622.8L1432.8 628.9L1433.1 635.2L1433.3 641.7L1433.6 648.3L1433.9 655.0L1434.1 661.8L1434.4 668.7L1434.7 675.6L1435.0 682.6L1435.3 689.5L1435.5 696.4L1435.8 703.2L1436.1 709.9L1436.4 716.5L1436.8 723.0L1437.1 729.4L1437.4 735.9L1437.8 742.4L1438.1 748.8L1438.5 755.2L1438.8 761.6L1439.2 767.8L1439.6 774.0L1439.9 780.0L1440.3 785.9L1440.6 791.6L1441.0 797.2L1441.3 802.5L1441.7 807.7L1442.0 812.7L1442.3 817.6L1442.7 822.4L1443.0 827.1L1443.3 831.8L1443.6 836.6L1444.0 841.4L1444.3 846.3L1444.6 851.3L1445.0 856.3L1445.3 861.3L1445.7 866.3L1446.0 871.3L1446.4 876.4L1446.7 881.4L1447.0 886.4L1447.3 891.5L1447.6 896.5L1447.9 901.5L1448.2 906.4L1448.5 911.4L1448.8 916.3L1449.0 921.3L1449.3 926.2L1449.6 931.2L1449.8 936.2L1450.1 941.2L1450.4 946.3L1450.7 951.4L1451.1 956.6L1451.4 961.7L1451.8 967.0L1452.2 972.2L1452.5 977.5L1452.9 982.8L1453.3 988.0L1453.6 993.3L1454.0 998.6L1454.3 1003.8L1454.7 1009.1L1455.0 1014.4L1455.3 1019.7L1455.6 1025.0L1456.0 1030.4L1456.3 1035.7L1456.6 1040.9L1456.9 1046.1L1457.2 1051.2L1457.5 1056.3L1457.9 1061.2L1458.2 1066.1L1458.6 1070.9L1459.0 1075.6L1459.3 1080.3L1459.7 1085.0L1460.0 1089.6L1460.4 1094.2L1460.7 1098.7L1461.0 1103.2L1461.3 1107.8L1461.6 1112.6L1461.9 1117.5L1462.1 1122.3L1462.4 1127.0L1462.6 1131.4L1462.9 1135.3L1463.1 1138.8L1463.2 1141.7L1463.4 1144.3L1463.6 1146.5L1463.7 1148.4L1463.8 1150.0" stroke="#77ac30" stroke-width="8.0" stroke-dasharray="25 6.8 12 6.65" stroke-dashoffset="1.53"/>
</g>
<g font-family="'Liberation Serif','Times New Roman',Times,serif" font-size="78" fill="#000" stroke="#fff" stroke-width="0.9" stroke-linejoin="round">
<text x="267.5" y="1234" text-anchor="middle" letter-spacing="-1.5">65</text>
<text x="429.6" y="1234" text-anchor="middle" letter-spacing="-1.5">70</text>
<text x="590.6" y="1234" text-anchor="middle" letter-spacing="-1.5">75</text>
<text x="753.7" y="1234" text-anchor="middle" letter-spacing="-1.5">80</text>
<text x="913.7" y="1234" text-anchor="middle" letter-spacing="-1.5">85</text>
<text x="1076.8" y="1234" text-anchor="middle" letter-spacing="-1.5">90</text>
<text x="1236.8" y="1234" text-anchor="middle" letter-spacing="-1.5">95</text>
<text x="1399.9" y="1234" text-anchor="middle" letter-spacing="-1.5">100</text>
<text x="1559.4" y="1234" text-anchor="middle" letter-spacing="-1.5">105</text>
<text x="1722.0" y="1234" text-anchor="middle" letter-spacing="-1.5">110</text>
<text x="245.5" y="81.0" text-anchor="end" letter-spacing="0">0</text>
<text x="245.5" y="262.2" text-anchor="end" letter-spacing="0"><tspan dy="2.3">-</tspan><tspan dx="-2.5" dy="-2.3">10</tspan></text>
<text x="245.5" y="443.3" text-anchor="end" letter-spacing="0"><tspan dy="2.3">-</tspan><tspan dx="-2.5" dy="-2.3">20</tspan></text>
<text x="245.5" y="624.5" text-anchor="end" letter-spacing="0"><tspan dy="2.3">-</tspan><tspan dx="-2.5" dy="-2.3">30</tspan></text>
<text x="245.5" y="805.7" text-anchor="end" letter-spacing="0"><tspan dy="2.3">-</tspan><tspan dx="-2.5" dy="-2.3">40</tspan></text>
<text x="245.5" y="986.8" text-anchor="end" letter-spacing="0"><tspan dy="2.3">-</tspan><tspan dx="-2.5" dy="-2.3">50</tspan></text>
<text x="245.5" y="1168.0" text-anchor="end" letter-spacing="0"><tspan dy="2.3">-</tspan><tspan dx="-2.5" dy="-2.3">60</tspan></text>
<text x="994.5" y="1323.5" text-anchor="middle" letter-spacing="-1.1">Frequency (GHz)</text>
<text transform="translate(84.3 597.5) rotate(-90)" text-anchor="middle" letter-spacing="-0.85">Simulated S<tspan font-size="62" dx="-0.8" dy="37.2">21</tspan><tspan dy="-37.2" letter-spacing="0.15"> (dB)</tspan></text>
</g>
<rect x="1043.0" y="281.0" width="334.0" height="444.4" fill="#fff" stroke="#6a6a6a" stroke-width="3.4"/>
<g font-family="'Liberation Serif','Times New Roman',Times,serif" font-size="78" fill="#000" stroke="#fff" stroke-width="0.9" stroke-linejoin="round">
<line x1="1055.5" y1="330.0" x2="1182" y2="330.0" stroke="#0072bd" stroke-width="8.5"/>
<text x="1191" y="360.3"><tspan font-style="italic">N</tspan><tspan dx="0">=</tspan>2</text>
<line x1="1055.5" y1="416.6" x2="1182" y2="416.6" stroke="#d95319" stroke-width="8.5" stroke-dasharray="25 25.5"/>
<text x="1191" y="446.9"><tspan font-style="italic">N</tspan><tspan dx="0">=</tspan>4</text>
<line x1="1055.5" y1="503.2" x2="1182" y2="503.2" stroke="#edb120" stroke-width="8.5"/>
<text x="1191" y="533.5"><tspan font-style="italic">N</tspan><tspan dx="0">=</tspan>6</text>
<line x1="1055.5" y1="589.8" x2="1182" y2="589.8" stroke="#7e2f8e" stroke-width="8.5" stroke-dasharray="25 25.5"/>
<text x="1191" y="620.1"><tspan font-style="italic">N</tspan><tspan dx="0">=</tspan>8</text>
<line x1="1055.5" y1="676.4" x2="1182" y2="676.4" stroke="#77ac30" stroke-width="8.5" stroke-dasharray="25 7 12 7"/>
<text x="1191" y="706.7"><tspan font-style="italic">N</tspan><tspan dx="0">=</tspan><tspan dx="-1.5" letter-spacing="-2">10</tspan></text>
</g>
</g>
</svg>
</body>
</html>
